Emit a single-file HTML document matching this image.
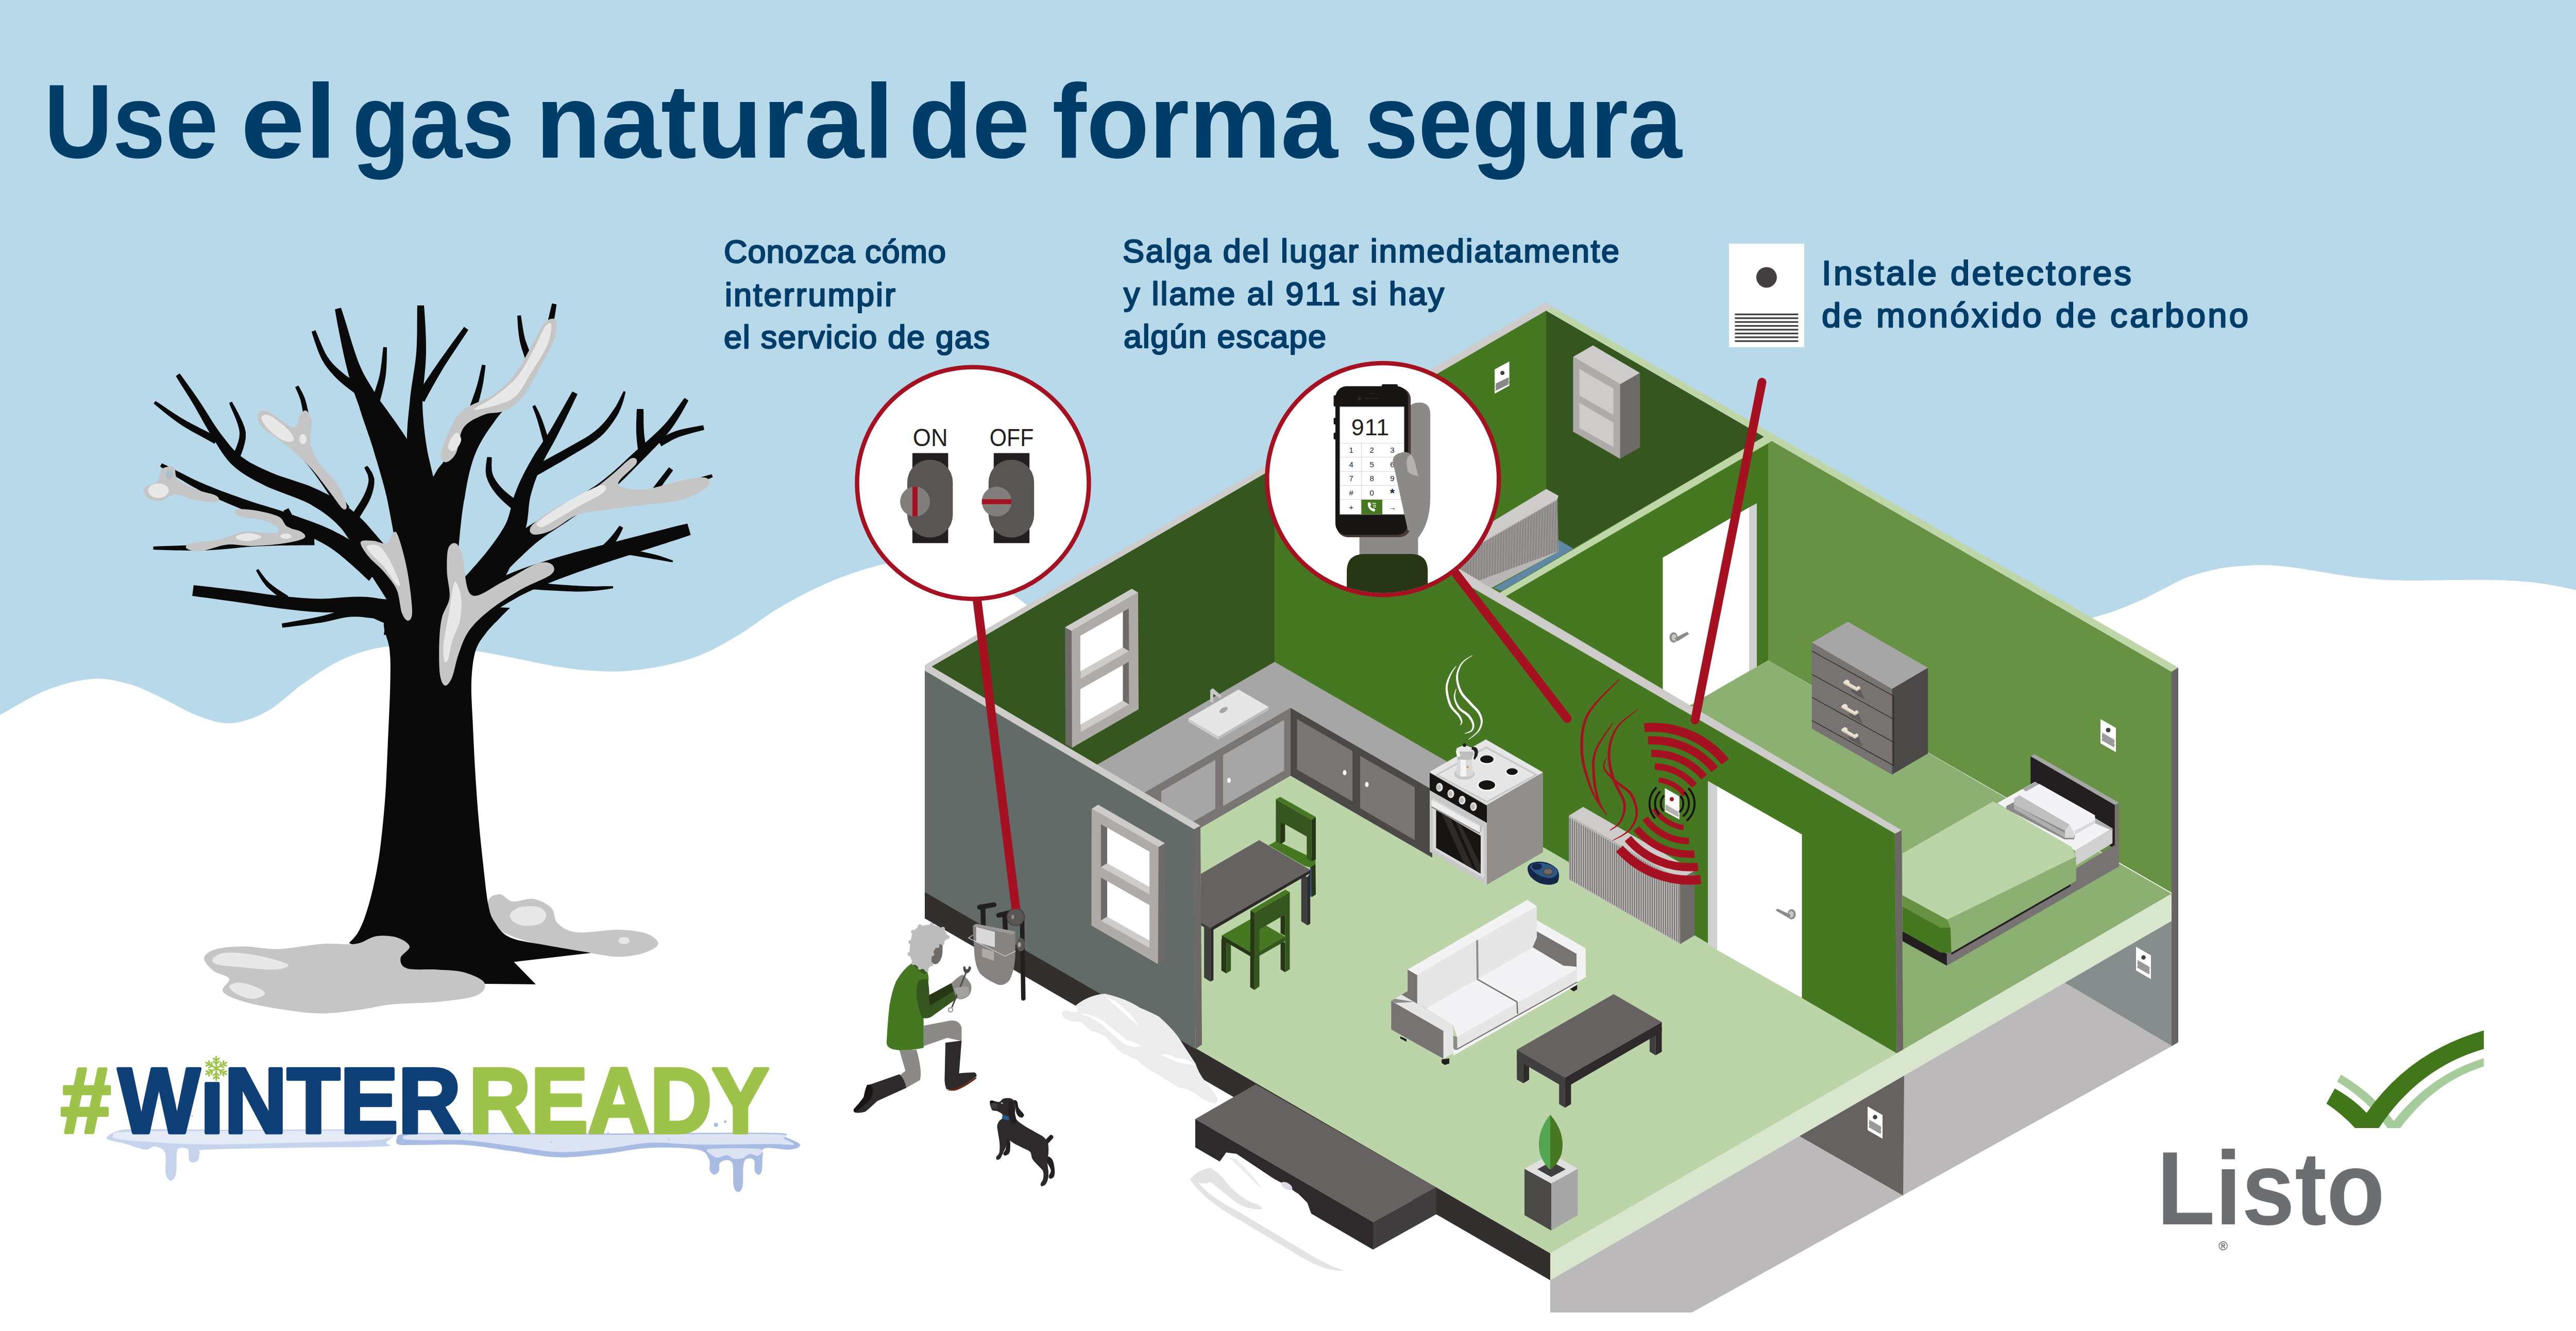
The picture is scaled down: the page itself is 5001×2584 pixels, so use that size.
<!DOCTYPE html>
<html lang="es"><head><meta charset="utf-8"><title>Use el gas natural de forma segura</title>
<style>html,body{margin:0;padding:0;background:#fff}body{width:5001px;height:2584px;overflow:hidden}svg{display:block}</style></head>
<body>
<svg width="5001" height="2584" viewBox="0 0 5001 2584" font-family="'Liberation Sans', sans-serif">
<g id="bg">
<rect x="0" y="0" width="5001" height="2584" fill="#FFFFFF"/>
<path d="M-60,-10 L-60,1420 C-50,1414.7 -25,1401.3 0,1388C25,1374.7 60.2,1351.7 90,1340C119.8,1328.3 152.3,1320 179,1318C205.7,1316 228.2,1322.2 250,1328C271.8,1333.8 287.5,1342.7 310,1353C332.5,1363.3 361.7,1381.5 385,1390C408.3,1398.5 427.5,1405.7 450,1404C472.5,1402.3 496.7,1393 520,1380C543.3,1367 565.8,1342.7 590,1326C614.2,1309.3 639.2,1291.7 665,1280C690.8,1268.3 717.5,1260.2 745,1256C772.5,1251.8 800.2,1253.7 830,1255C859.8,1256.3 894,1259.8 924,1264C954,1268.2 982.8,1274.8 1010,1280C1037.2,1285.2 1063.7,1291.3 1087,1295C1110.3,1298.7 1129.3,1300.7 1150,1302C1170.7,1303.3 1188.5,1304.5 1211,1303C1233.5,1301.5 1260.3,1298.2 1285,1293C1309.7,1287.8 1334,1282.2 1359,1272C1384,1261.8 1409.2,1247.5 1435,1232C1460.8,1216.5 1484.8,1196 1514,1179C1543.2,1162 1577.7,1143.7 1610,1130C1642.3,1116.3 1678,1104.3 1708,1097C1738,1089.7 1764.7,1086.2 1790,1086C1815.3,1085.8 1836.7,1088.7 1860,1096C1883.3,1103.3 1908.3,1117.3 1930,1130C1951.7,1142.7 1968.3,1155.3 1990,1172C2011.7,1188.7 2033.3,1208.7 2060,1230C2086.7,1251.3 2135,1288.3 2150,1300 L3990,1215 C4002,1212.3 4042,1204.2 4062,1199C4082,1193.8 4094.3,1189.7 4110,1184C4125.7,1178.3 4141,1171.8 4156,1165C4171,1158.2 4185.7,1150.2 4200,1143C4214.3,1135.8 4227.8,1127.7 4242,1122C4256.2,1116.3 4270.8,1112.5 4285,1109C4299.2,1105.5 4309.3,1103 4327,1101C4344.7,1099 4371.3,1097 4391,1097C4410.7,1097 4427.2,1099 4445,1101C4462.8,1103 4482.2,1106.5 4498,1109C4513.8,1111.5 4525.7,1113.8 4540,1116C4554.3,1118.2 4568.2,1120.3 4584,1122C4599.8,1123.7 4617.3,1125.2 4635,1126C4652.7,1126.8 4668.3,1127 4690,1127C4711.7,1127 4740,1126.2 4765,1126C4790,1125.8 4817.5,1125.5 4840,1126C4862.5,1126.5 4882.2,1127.5 4900,1129C4917.8,1130.5 4930.2,1132.2 4947,1135C4963.8,1137.8 4982.2,1141.5 5001,1146C5019.8,1150.5 5050.2,1159.3 5060,1162 L5060,-10 Z" fill="#B8D9EA"/>
</g>
<g id="tree">
<path d="M947.5,1750C949.2,1740.2 962.1,1736 970,1736C977.9,1736 984.2,1748.5 995,1750C1005.8,1751.5 1022.5,1742.9 1035,1745C1047.5,1747.1 1062.1,1754.6 1070,1762.5C1077.9,1770.4 1074.2,1784.6 1082.5,1792.5C1090.8,1800.4 1100.4,1807.9 1120,1810C1139.6,1812.1 1177.5,1804.6 1200,1805C1222.5,1805.4 1242.1,1807.9 1255,1812.5C1267.9,1817.1 1278.3,1826.2 1277.5,1832.5C1276.7,1838.8 1262.9,1845.8 1250,1850C1237.1,1854.2 1217.5,1857.5 1200,1857.5C1182.5,1857.5 1165.8,1852.9 1145,1850C1124.2,1847.1 1099.2,1845 1075,1840C1050.8,1835 1019.2,1827.5 1000,1820C980.8,1812.5 968.8,1806.7 960,1795C951.2,1783.3 945.8,1759.8 947.5,1750Z" fill="#C6C5C6"/>
<path d="M990,1775C992.1,1770.2 1000.8,1763.3 1010,1761C1019.2,1758.7 1036.7,1758.7 1045,1761C1053.3,1763.3 1059.2,1769.8 1060,1775C1060.8,1780.2 1056.7,1788.8 1050,1792.5C1043.3,1796.2 1028.8,1797.9 1020,1797.5C1011.2,1797.1 1002.5,1793.8 997.5,1790C992.5,1786.2 987.9,1779.8 990,1775Z" fill="#E8E8E8"/>
<ellipse cx="1211" cy="1826" rx="11" ry="7" fill="#E8E8E8"/>
<path d="M750,1170C749.2,1177.5 744,1200 745,1215C746,1230 753.9,1241.7 756,1260C758.1,1278.3 758.1,1293.3 757.5,1325C756.9,1356.7 754.2,1412.5 752.5,1450C750.8,1487.5 750,1516.7 747.5,1550C745,1583.3 741.2,1621.7 737.5,1650C733.8,1678.3 729.6,1699.2 725,1720C720.4,1740.8 715,1760 710,1775C705,1790 700.4,1800.7 695,1810C689.6,1819.3 680.4,1827.5 677.5,1831 L700,1840 L800,1885 L940,1910 L1040,1911 L997.5,1867.5 L1147.5,1850 C1132.9,1847.5 1086.2,1840 1060,1835C1033.8,1830 1006.7,1827.5 990,1820C973.3,1812.5 967.1,1800.8 960,1790C952.9,1779.2 951.2,1774.2 947.5,1755C943.8,1735.8 940.6,1702.5 937.5,1675C934.4,1647.5 931.5,1619.2 929,1590C926.5,1560.8 924.4,1531.7 922.5,1500C920.6,1468.3 918.8,1429.2 917.5,1400C916.2,1370.8 914.2,1347.5 915,1325C915.8,1302.5 917.9,1280.8 922.5,1265C927.1,1249.2 934.6,1240.8 942.5,1230C950.4,1219.2 962.1,1208.3 970,1200C977.9,1191.7 986.7,1183.3 990,1180Z" fill="#0A0A0A"/>
<polygon points="745,1232.5 755,1160 770,1100 765,1040 750,960 742.5,910 781,867.5 802.5,925 829,946 850,910 875,880 895,910 890,985 885,1060 900,1110 917.5,1157.5 922.5,1232.5" fill="#0A0A0A"/>
<polygon points="880.5,1045.1 878.5,1040.9 876.1,1035.4 873.5,1028.7 870.6,1021 867.4,1012.4 864.1,1003.3 860.6,993.7 856.9,983.9 853,974 849.1,964.2 845,954.8 841.3,947.1 837.6,939.5 833.7,931.8 829.7,924.1 825.7,916.3 821.6,908.5 817.4,900.7 813.2,893 809,885.3 804.7,877.7 800.5,870.2 796.2,862.9 791.9,855.6 787,847.8 781.9,840 776.7,832.4 771.6,824.9 766.4,817.6 761.3,810.4 756.2,803.4 751.3,796.6 746.5,790 741.8,783.6 737.3,777.5 733.1,771.4 728.3,763.3 723.8,755.9 719.7,749.2 715.7,742.8 711.9,736.5 708.2,729.9 704.5,722.9 700.8,715 696.9,706.1 694.3,699.6 691.7,692.1 688.9,684 686.1,675.3 683.2,666.3 680.4,657.1 677.6,647.9 674.9,638.8 672.3,630.1 669.8,622 667.5,614.4 665.3,607.7 663.4,602 661.8,597.5 650.2,600.5 650.9,605.2 651.9,611 653.1,617.9 654.5,625.7 656.1,634.1 657.8,643.1 659.7,652.4 661.6,661.9 663.5,671.4 665.5,680.8 667.5,689.9 669.4,698.5 671.3,706.6 673.1,713.9 675.6,723.9 678.1,733 680.5,741.3 682.9,749.2 685.5,756.8 688.1,764.2 690.8,771.8 693.7,779.8 696.9,788.6 699.1,796.1 701.6,803.8 704.2,811.7 706.9,819.7 709.7,827.7 712.5,835.8 715.3,844 718.1,852.1 720.8,860.3 723.4,868.3 725.8,876.4 728.1,884.4 730.4,891.9 732.7,899.6 735,907.5 737.4,915.4 739.6,923.4 741.9,931.4 744.1,939.4 746.2,947.3 748.2,955.2 750.1,963 751.9,970.6 753.5,978.1 755,985.2 756.8,993.6 758.6,1002.4 760.3,1011.5 761.9,1020.8 763.5,1030.1 764.9,1039.1 766.2,1047.7 767.3,1055.7 768.2,1063.1 769,1069.6 769.5,1074.9" fill="#0A0A0A"/>
<polygon points="705.8,751.9 701.1,748.9 694.6,744.8 687.1,739.9 679.3,734.6 671.8,729.2 665.4,724.1 658.5,718.2 652.1,712.3 646.1,706.2 640.5,699.5 635.2,691.9 631.4,685.5 627.6,677.6 623.9,669.1 620.3,660.6 617.1,652.6 614.4,645.9 612.2,641.1 604.8,643.9 606.3,648.9 608.5,655.7 611.2,663.9 614.3,672.8 617.6,681.9 621.2,690.5 624.8,698.1 630.1,706.9 635.7,714.8 641.6,722.1 647.9,729 654.6,735.9 661.3,742.1 668.9,748.4 676.6,754.5 683.9,760 690,764.7 694.2,768.1" fill="#0A0A0A"/>
<polygon points="735.7,787.4 736.7,782.4 738.4,775.6 740.5,767.4 742.8,758.5 745,749.1 746.9,739.8 748.4,731.1 749.4,722.3 750.1,713 750.5,703.5 750.8,694.4 750.9,686.2 751,679.3 751,674.3 744,673.7 743.3,678.8 742.5,685.7 741.7,693.8 740.7,702.7 739.5,711.9 738.2,720.8 736.6,728.9 734.6,737 732,745.7 729.2,754.6 726.3,763.2 723.5,771.1 721.1,777.7 719.3,782.6" fill="#0A0A0A"/>
<polygon points="862.1,1004.9 860.6,1000.3 858.9,994.7 857,988.2 855,980.9 852.8,973 850.6,964.6 848.4,955.8 846.1,946.7 843.8,937.4 841.5,928.1 839.3,918.8 837.1,909.7 835.1,901 833.2,892.7 831.4,885 829.9,878 828.3,868.4 826.9,859.3 825.6,850.6 824.5,842.3 823.6,834.3 822.7,826.3 822,818.4 821.4,810.5 820.8,802.4 820.4,794.1 820,785.5 820.2,777.6 820.5,769.6 821.1,761.4 821.7,753.1 822.5,744.7 823.3,736.2 824.1,727.7 824.9,719.2 825.7,710.7 826.3,702.2 826.7,693.8 827,685.4 827,676.2 826.9,666.6 826.7,656.8 826.3,647 825.9,637.3 825.4,627.9 824.8,619.1 824.3,611 823.8,603.8 823.4,597.7 823,592.9 810,593.1 809.8,598 809.7,604.2 809.7,611.5 809.7,619.6 809.6,628.4 809.6,637.6 809.5,647.2 809.3,656.9 809,666.5 808.6,675.8 808,684.6 807.3,692.4 806.4,700.3 805.3,708.4 804.1,716.7 802.8,725 801.5,733.4 800.2,741.9 798.9,750.4 797.7,758.9 796.6,767.5 795.7,776 795,784.5 794,793.3 793.1,801.8 792.3,810.1 791.5,818.4 790.9,826.8 790.4,835.2 790,843.8 789.8,852.8 789.7,862 789.8,871.7 790.1,882 790.2,889.8 790.4,898.2 790.8,907.1 791.4,916.4 792,926 792.7,935.7 793.5,945.5 794.3,955.2 795,964.7 795.8,973.8 796.4,982.6 797,990.7 797.5,998.2 797.8,1004.8 798,1010.5 797.9,1015.1" fill="#0A0A0A"/>
<polygon points="823.5,780.2 825.9,775.7 829,769.9 832.7,763.1 836.9,755.5 841.5,747.3 846.3,738.8 851.2,730.3 856.1,721.9 860.9,713.8 865,707.2 869.7,700 874.6,692.5 879.7,684.7 884.9,676.9 889.9,669.4 894.8,662.1 899.2,655.4 903.2,649.4 906.5,644.4 909.1,640.4 900.9,634.6 898,638.4 894.4,643.3 890.2,649.1 885.4,655.6 880.2,662.6 874.9,670 869.4,677.6 863.9,685.2 858.7,692.6 853.7,699.6 849.1,706.2 843.7,714 838.2,722.1 832.6,730.4 827.2,738.6 822.1,746.5 817.3,753.8 813,760.3 809.4,765.7 806.5,769.8" fill="#0A0A0A"/>
<polygon points="889.8,1063.4 890.4,1058.4 891,1052 891.8,1044.7 892.5,1036.7 893.4,1028 894.4,1018.8 895.4,1009.5 896.5,1000 897.7,990.8 899,981.9 900.4,973.6 901.9,966 903.2,957.7 904.6,949.3 906.1,941 907.7,932.8 909.4,924.8 911.2,916.9 913.2,909.2 915.3,901.8 917.5,894.6 919.9,887.6 922.5,881 925.5,873.8 928.9,866.6 932.7,859.4 936.8,852.3 941.1,845.3 945.6,838.3 950.3,831.6 955,824.9 959.6,818.5 963.9,812.5 969.1,805.8 974.4,799.7 980,793.8 985.8,788.1 991.7,782.3 997.7,776.4 1003.5,770.2 1009,763.7 1014.9,756.7 1020.3,749.8 1025.3,743 1030.1,736.1 1034.6,729.2 1038.9,722.2 1043,715.1 1047.6,706.9 1052,698.7 1056,690.3 1059.8,681.6 1063.4,672.3 1066.6,662.3 1069,653.5 1071.2,643.8 1073.3,633.5 1075.2,623.1 1076.9,613.1 1078.4,604 1079.5,596.5 1080.4,590.9 1071.6,589.1 1070.1,594.6 1068.3,602.1 1066.2,610.9 1063.9,620.7 1061.4,630.8 1058.8,640.7 1056.1,649.9 1053.4,657.7 1049.6,666.8 1045.6,675.1 1041.4,682.8 1036.9,690.2 1032.1,697.5 1027,704.9 1022.4,711.2 1017.7,717.2 1012.9,723.2 1007.8,729 1002.5,734.8 996.9,740.6 991,746.3 985.4,750.7 979.4,755 973,759.3 966.1,763.8 958.8,768.8 951.3,774.3 943.6,780.5 936.1,787.5 930.2,793.3 924.3,799.2 918.3,805.5 912.2,812.1 906.1,819.1 900,826.4 894,834.1 888.2,842 882.7,850.4 877.5,859 873.3,867.2 869.3,875.5 865.7,883.9 862.2,892.4 859,901.1 856,909.8 853.2,918.6 850.5,927.4 847.9,936.2 845.5,945 843.1,954 841.4,963 839.8,972.6 838.3,982.5 837,992.6 835.8,1002.6 834.7,1012.4 833.7,1021.9 832.8,1030.8 832,1038.9 831.3,1046 830.7,1051.9 830.2,1056.6" fill="#0A0A0A"/>
<polygon points="924.7,797.2 926.2,791 928.6,782.1 931.4,771.7 934.1,761.1 936.3,751.3 938.1,741.9 939.6,732 940.9,722.7 941.8,714.8 942.4,709.1 935.6,707.9 934.2,713.4 932.4,721.2 930.4,730.3 928.1,739.8 925.7,748.7 922.8,757.9 919.3,768.1 915.8,778.1 912.7,786.7 910.3,792.8" fill="#0A0A0A"/>
<polygon points="1037,702.3 1034.3,696.3 1030.5,687.9 1026.4,678.2 1022.5,668.1 1019.3,658.7 1017,649 1015.1,638.3 1013.5,627.7 1012.1,618.6 1011,612.1 1004,612.9 1004.4,619.4 1004.9,628.7 1005.7,639.5 1007,650.8 1008.7,661.3 1011.2,671.7 1014.6,682.5 1018,692.8 1021.1,701.5 1023,707.7" fill="#0A0A0A"/>
<polygon points="945.3,1182 947.5,1177.4 950.6,1171.5 954.5,1164.5 959.1,1156.7 964,1148.3 969.2,1139.4 974.4,1130.5 979.4,1121.6 984.1,1112.9 988.2,1104.8 992.3,1096.6 996.3,1088.6 1000.1,1080.7 1003.7,1072.7 1007.2,1064.7 1010.4,1056.6 1013.5,1048.5 1016.2,1040.4 1018.8,1032 1021.3,1022.4 1023.2,1012.9 1024.4,1003.9 1025.4,995.2 1026.1,987 1026.9,979.1 1027.9,971.7 1029.3,964.4 1031.3,957 1033.5,949.5 1035.8,942.1 1038.3,934.8 1041,927.4 1043.9,920 1046.9,912.6 1050,905.1 1053.4,897.8 1057.1,890.7 1060.9,883.5 1064.9,876.2 1069.1,868.8 1073.5,861 1077.9,852.8 1082.4,844.1 1086.2,836.5 1090.4,828.1 1094.9,819.2 1099.4,809.9 1103.9,800.8 1108.2,791.9 1112.2,783.6 1115.7,776.1 1118.7,769.9 1120.9,765.1 1111.1,759.9 1108.4,764.5 1104.9,770.5 1100.9,777.6 1096.3,785.7 1091.5,794.2 1086.5,803.1 1081.4,812 1076.5,820.7 1071.8,828.7 1067.6,835.9 1062.6,843.9 1057.7,851.5 1052.9,858.8 1048.1,865.9 1043.4,873 1038.8,880.1 1034.3,887.4 1030,894.9 1025.8,902.4 1021.8,909.8 1017.9,917.2 1014.2,924.6 1010.6,932.1 1007.1,939.7 1003.8,947.5 1000.7,955.6 997.6,964.1 995.1,972.7 992.9,981.1 990.9,989.2 988.9,996.9 986.7,1004.3 984.2,1011.3 981.2,1018 977.9,1024 974.2,1030.1 970.3,1036.3 966.1,1042.6 961.6,1048.9 957,1055.3 952.1,1061.8 947,1068.5 941.8,1075.2 936.6,1081.3 930.9,1088 924.6,1095.2 918.1,1102.6 911.6,1109.9 905.2,1116.9 899.1,1123.4 893.5,1129.3 888.6,1134.2 884.7,1138" fill="#0A0A0A"/>
<polygon points="1042.1,923.3 1046.9,920.5 1053.2,916.9 1060.9,912.5 1069.4,907.7 1078.3,902.6 1087.4,897.4 1096.2,892.2 1104.3,887.3 1112,882.7 1119.9,878.1 1127.8,873.4 1135.8,868.6 1143.6,863.7 1151.1,858.7 1158.3,853.6 1164.9,848.2 1172.6,840.9 1179.4,833.3 1185.5,825.6 1190.8,817.9 1195.7,810.5 1200.2,803.1 1204.5,793.5 1208.2,783.6 1211,774.3 1213,766.4 1214.4,760.7 1210.6,759.3 1207.8,764.4 1204.2,771.7 1200,780.2 1195.3,788.9 1189.8,796.9 1185.3,803.5 1180.3,810.4 1174.9,817.2 1168.9,824 1162.4,830.5 1155.1,836.8 1149.2,841.3 1142.5,845.9 1135.3,850.4 1127.6,854.8 1119.7,859.3 1111.7,863.8 1103.6,868.2 1095.7,872.7 1087.6,877.3 1078.8,882.1 1069.7,887.1 1060.6,892 1052.1,896.6 1044.3,900.7 1037.8,904.1 1032.9,906.7" fill="#0A0A0A"/>
<polygon points="1068.3,863.3 1066.3,857.7 1063.8,849.7 1060.8,840.2 1057.6,830.4 1054.5,821.2 1051.7,813.5 1046.7,801.6 1042,792.4 1038.7,786.3 1033.3,788.7 1035.7,795.2 1039.3,804.7 1043.3,816.5 1045.4,824 1048,833.3 1050.7,843.2 1053.2,852.7 1055.3,860.9 1056.7,866.7" fill="#0A0A0A"/>
<polygon points="1011.3,977.2 1006,973.5 998.6,968.1 990.3,961.9 982.3,955.5 975.9,949.6 969.5,942.5 963.9,935.2 959.5,927.9 956.3,920.9 954.6,912.7 954.2,903.2 954.5,894.3 954.5,887.8 945.5,887.2 944.5,893.4 943.3,902.7 942.6,913.5 943.7,924.1 947,933.8 951.7,942.9 957.4,951.7 964.1,960.4 970.9,967.8 978.9,975.4 987,982.5 994,988.5 998.7,992.8" fill="#0A0A0A"/>
<polygon points="974.8,1117 978.3,1113.3 982.8,1108.7 988.1,1103.3 994.1,1097.4 1000.5,1091.1 1007.3,1084.5 1014.2,1077.9 1021.2,1071.3 1028,1065 1034.5,1059.2 1040.5,1054 1047,1049 1053.4,1044.2 1059.9,1039.6 1066.5,1035.1 1073.2,1030.7 1080,1026.3 1086.8,1021.8 1093.8,1017.3 1101,1012.5 1108.1,1007.6 1114.7,1003.1 1121.3,998.7 1128.1,994.2 1135,989.7 1141.9,985.1 1148.9,980.4 1155.9,975.6 1162.8,970.7 1169.7,965.7 1176.4,960.5 1183,955.2 1189.5,949.8 1195.8,944.2 1202,938.5 1208.1,932.7 1214.1,926.9 1219.9,921.1 1225.7,915.3 1231.3,909.5 1236.9,903.9 1242.3,898.3 1247.6,892.9 1254,886.4 1260.3,879.9 1266.6,873.5 1272.8,867.2 1278.9,860.8 1284.8,854.5 1290.5,848.1 1295.9,841.6 1301.2,835.1 1306.8,827.3 1312.3,819.1 1317.5,810.7 1322.4,802.5 1326.9,794.7 1330.7,787.7 1333.9,781.9 1336.3,777.5 1328.7,772.5 1325.6,776.6 1321.6,782 1317,788.5 1311.9,795.7 1306.4,803.2 1300.7,810.8 1294.8,818.2 1288.8,824.9 1283.5,830.5 1277.8,836.2 1271.9,841.8 1265.8,847.5 1259.4,853.3 1252.8,859 1246.1,864.9 1239.3,870.9 1232.4,877.1 1226.7,882.3 1221,887.6 1215.2,893 1209.4,898.5 1203.5,903.9 1197.5,909.3 1191.5,914.7 1185.4,919.9 1179.3,925.1 1173.2,930 1167,934.8 1160.7,939.4 1154.1,943.9 1147.5,948.3 1140.7,952.7 1133.7,957 1126.7,961.3 1119.7,965.5 1112.7,969.8 1105.6,974 1098.7,978.2 1091.9,982.4 1084.6,986.8 1077.5,990.9 1070.4,994.9 1063.3,999 1056.2,1003 1049,1007.2 1041.7,1011.5 1034.4,1016 1027,1020.8 1019.5,1026 1012.2,1031 1004.6,1036.6 996.8,1042.5 989,1048.6 981.2,1054.8 973.7,1060.8 966.5,1066.5 960,1071.8 954.1,1076.4 949.2,1080.2 945.2,1083" fill="#0A0A0A"/>
<polygon points="1255.9,878.8 1255,873.5 1253.6,866 1252.2,857.3 1250.9,848.2 1250,839.6 1249.5,830.3 1249.2,819.9 1249.2,809.5 1249.1,800.5 1249,794.1 1236,793.9 1235.7,800.2 1235.4,809.3 1235,819.8 1234.9,830.6 1235,840.4 1235.6,849.8 1236.5,859.4 1237.6,868.3 1238.5,875.9 1239.1,881.2" fill="#0A0A0A"/>
<polygon points="1283.6,866.6 1289.4,863.1 1297.6,858.2 1307.1,853.1 1317.2,848.6 1324.8,845.9 1334.1,843.2 1343.9,840.5 1353.3,838.1 1361.3,836 1367,834.4 1365,825.6 1359.2,826.6 1351.1,828 1341.5,829.8 1331.3,831.8 1321.5,834 1312.8,836.4 1301.5,840.8 1291,845.9 1282.4,850.4 1276.4,853.4" fill="#0A0A0A"/>
<polygon points="1175.9,977.4 1180.9,976.8 1187.5,975.9 1195.3,975 1204.1,973.9 1213.5,972.7 1223.2,971.4 1232.9,970 1242.4,968.5 1251.2,966.9 1259.8,965.2 1268.4,963.3 1277.1,961.3 1285.8,959.2 1294.4,957.1 1302.8,954.9 1311.1,952.7 1319,950.5 1326.6,948.3 1336.3,945 1346,941.5 1355.4,937.9 1364.2,934.4 1372.1,931.2 1378.6,928.5 1383.5,926.3 1381.5,920.7 1376.3,922 1369.5,923.9 1361.4,926.3 1352.4,929 1342.8,931.7 1333,934.4 1323.4,936.7 1315.9,938.6 1308,940.6 1299.8,942.6 1291.4,944.5 1282.8,946.4 1274.2,948.3 1265.6,950 1257.1,951.6 1248.8,953.1 1240.1,954.5 1230.9,955.9 1221.3,957.2 1211.7,958.3 1202.3,959.4 1193.6,960.4 1185.8,961.3 1179.1,962 1174.1,962.6" fill="#0A0A0A"/>
<polygon points="1269.8,963.6 1273.4,958.6 1278.6,951.3 1284.9,942.8 1291.4,933.8 1297.7,925.3 1302.9,918 1306.5,913 1298.5,907 1294.7,911.9 1289.2,918.9 1282.7,927.3 1276,936.1 1269.5,944.5 1264,951.5 1260.2,956.4" fill="#0A0A0A"/>
<polygon points="914.7,1216.2 918.6,1213.4 923.6,1210.1 929.2,1206.3 935.4,1202.2 942.2,1197.7 949.5,1193 957,1188.2 964.8,1183.3 972.8,1178.3 980.7,1173.5 988.5,1168.8 996.1,1164.4 1003.3,1160.3 1010,1156.5 1017.2,1153 1024.2,1149.6 1031.3,1146.3 1038.3,1143.2 1045.3,1140.1 1052.4,1137.2 1059.5,1134.3 1066.8,1131.4 1074.3,1128.5 1081.9,1125.6 1089.8,1122.6 1097.9,1119.6 1106.3,1116.5 1113.2,1113.9 1120.4,1111.3 1127.8,1108.7 1135.3,1106.1 1143,1103.4 1150.8,1100.8 1158.8,1098.1 1166.7,1095.5 1174.7,1092.8 1182.7,1090.2 1190.7,1087.6 1198.7,1085 1206.5,1082.4 1214.3,1079.9 1221.9,1077.4 1229.4,1074.9 1238,1072 1246.9,1069.1 1256,1066.2 1265.3,1063.2 1274.6,1060.2 1283.8,1057.3 1292.8,1054.4 1301.5,1051.6 1309.7,1048.9 1317.4,1046.4 1324.5,1044.1 1330.8,1042 1336.2,1040.1 1340.7,1038.6 1334.3,1016.4 1329.7,1017.5 1324.1,1018.8 1317.7,1020.3 1310.4,1022.1 1302.6,1024.1 1294.2,1026.2 1285.3,1028.4 1276.2,1030.8 1266.8,1033.2 1257.3,1035.6 1247.9,1038.1 1238.5,1040.5 1229.4,1042.8 1220.6,1045.1 1213.1,1047.1 1205.3,1049 1197.4,1051 1189.4,1053.1 1181.3,1055.1 1173.1,1057.2 1164.9,1059.3 1156.7,1061.4 1148.5,1063.5 1140.3,1065.7 1132.2,1067.8 1124.2,1070 1116.4,1072.1 1108.6,1074.3 1101,1076.4 1093.7,1078.5 1085.1,1081.1 1076.7,1083.6 1068.5,1086 1060.5,1088.5 1052.6,1090.9 1044.8,1093.4 1037.1,1095.9 1029.4,1098.5 1021.6,1101.2 1013.9,1104 1006,1107 998.1,1110.1 990,1113.5 982,1116.8 973.6,1120.5 965.1,1124.4 956.3,1128.6 947.6,1132.9 938.9,1137.2 930.5,1141.5 922.3,1145.7 914.4,1149.7 907.1,1153.4 900.5,1156.7 894.5,1159.6 889.5,1162 885.3,1163.8" fill="#0A0A0A"/>
<polygon points="1166.2,1085.8 1170.2,1081.1 1176.1,1074.3 1182.9,1066.5 1189.6,1058.6 1195.2,1051.5 1201.7,1040.8 1206.5,1031.2 1209.5,1024.5 1202.5,1020.5 1198.2,1026.2 1192.2,1034.6 1184.8,1043.5 1179.3,1049.5 1172.2,1056.5 1164.9,1063.7 1158.4,1069.9 1153.8,1074.2" fill="#0A0A0A"/>
<polygon points="1198.8,1073.9 1204.5,1074.7 1212.3,1075.9 1221.6,1077.4 1231.7,1079.1 1242.2,1080.8 1252.3,1082.5 1261.5,1084.1 1269,1085.4 1281.4,1087.4 1291.6,1089.2 1299.7,1090.7 1305.6,1091.4 1306.4,1088.6 1300.9,1086.3 1293.1,1083.4 1283.1,1080.1 1271,1076.6 1263.3,1074.8 1254.2,1072.7 1244.2,1070.5 1233.8,1068.3 1223.7,1066.1 1214.5,1064.1 1206.8,1062.4 1201.2,1061.1" fill="#0A0A0A"/>
<polygon points="999.5,1142.5 1004.3,1142.7 1010.4,1143 1017.4,1143.3 1025.4,1143.8 1034.1,1144.3 1043.4,1144.8 1053.1,1145.4 1062.9,1146 1072.9,1146.5 1082.8,1147 1092.3,1147.5 1101.5,1147.9 1110.1,1148.2 1117.9,1148.4 1124.9,1148.5 1136.5,1148.2 1147.1,1147.6 1156.8,1146.7 1165.6,1145.7 1173.3,1144.7 1180,1143.7 1185.6,1142.7 1190.1,1142 1189.9,1138 1185.2,1137.9 1179.5,1137.9 1172.7,1138.1 1165,1138.3 1156.4,1138.4 1146.9,1138.3 1136.4,1138.1 1125.1,1137.5 1118.4,1137.1 1110.7,1136.7 1102.2,1136.1 1093.1,1135.4 1083.5,1134.7 1073.7,1133.9 1063.8,1133.1 1054,1132.3 1044.4,1131.5 1035.1,1130.7 1026.4,1129.9 1018.5,1129.2 1011.4,1128.5 1005.3,1128 1000.5,1127.5" fill="#0A0A0A"/>
<polygon points="822.2,1122.2 817.9,1119.4 812.7,1115.5 806.8,1110.8 800.4,1105.4 793.5,1099.6 786.3,1093.3 779,1086.9 771.7,1080.5 764.5,1074.2 757.6,1068.1 751.3,1062.6 746,1057.1 740.8,1051.3 735.5,1045.3 730.2,1039 724.8,1032.7 719.2,1026.2 713.6,1019.8 707.8,1013.5 701.7,1007.3 695.4,1001.3 688.9,995.6 681.4,989.3 673.9,983.4 666.4,978 658.7,972.9 650.9,968.1 642.9,963.6 634.7,959.2 626.2,955 617.3,950.7 609.9,947.4 602.2,944.1 594.2,941.1 586.1,938.2 577.8,935.4 569.6,932.7 561.5,930.1 553.6,927.5 546,924.9 538.8,922.4 532,919.8 525.8,917.3 516.9,913.3 508.4,909.5 500.6,905.8 493.3,902.1 486.4,898.4 479.9,894.5 473.8,890.3 467.8,885.9 462.1,881.3 456.8,876.4 451.8,871.2 446.9,865.7 442.1,859.8 437.3,853.6 432.2,847 427,840.2 422.4,833.8 417.8,827 413.2,819.9 408.5,812.5 403.8,805.1 399.1,797.6 394.5,790.3 389.9,783.2 385.5,776.5 379.6,768 373.6,759.3 367.5,750.7 361.7,742.7 356.5,735.5 352.1,729.5 348.7,725 341.3,730 344.2,734.8 348.1,741.2 352.8,748.7 358.1,757 363.7,765.8 369.2,774.8 374.5,783.5 378.5,790.3 382.6,797.5 386.8,805 391.1,812.6 395.4,820.4 399.8,828.1 404.2,835.6 408.6,842.9 413,849.8 417.5,857.1 421.8,864.2 426.1,871.2 430.6,878 435.3,884.8 440.4,891.4 446,897.9 452.2,904.1 458.9,909.8 465.8,915.1 473,920.1 480.5,924.8 488.3,929.3 496.4,933.7 505,938.1 514.2,942.7 521,945.9 528.3,949.1 536,952.1 543.8,955.1 551.8,958.1 559.7,961 567.7,964 575.4,967 582.9,970 590,973 596.6,976.1 602.7,979.3 610.5,983.9 617.9,988.5 624.8,993.1 631.4,997.8 637.6,1002.6 643.6,1007.6 649.5,1012.8 655.3,1018.4 661.1,1024.4 665.3,1029.6 669.4,1035.2 673.4,1041.1 677.5,1047.4 681.6,1054 685.7,1060.9 689.9,1068 694.3,1075.2 698.9,1082.6 703.7,1090 708.7,1097.4 713.3,1105.1 718.3,1113.2 723.6,1121.5 729,1129.9 734.3,1138.2 739.5,1146.3 744.4,1154 748.8,1161.2 752.6,1167.6 755.7,1173.2 757.8,1177.8" fill="#0A0A0A"/>
<polygon points="423.5,848.4 419,846.2 413,843.3 406,839.9 398.2,836 389.9,831.9 381.4,827.5 373.1,823.2 365.2,818.9 358.2,814.9 350.4,810.4 342.2,805.3 334.1,800 326.1,794.7 318.6,789.6 311.9,785.1 306.2,781.3 301.8,778.6 298.2,783.4 302.2,786.8 307.4,791.1 313.7,796.3 320.8,801.9 328.4,807.9 336.3,813.9 344.2,819.7 351.8,825.1 359,829.6 366.9,834.3 375.2,839 383.7,843.6 391.9,848.1 399.6,852.3 406.4,856 412.2,859.2 416.5,861.6" fill="#0A0A0A"/>
<polygon points="464.6,892.5 466.2,887.3 468.9,879.9 472.1,870.9 475,860.8 476.9,850.2 477,839.5 474.8,830.1 471.1,820.3 466.6,810.4 461.7,800.8 457,792.1 453,784.9 450.2,779.8 444.8,782.2 446.8,787.9 450.1,795.5 454,804.5 458,814.1 461.5,823.9 464,832.9 465,840.5 464.5,848.7 462.5,857.5 459.3,866.5 455.9,874.8 452.6,882.1 450.4,887.5" fill="#0A0A0A"/>
<polygon points="678.2,984.3 675.5,980.5 672,975.8 668,970.1 663.5,963.6 658.6,956.6 653.4,949.2 648,941.5 642.5,933.8 637,926.2 631.6,918.8 626.3,911.8 621.3,905.4 616.6,899.6 609.5,891.5 602.5,884.1 595.7,877.4 589.1,871.3 582.7,865.6 576.5,860.2 570.6,855 564.8,849.9 556.8,842.9 548.6,836.2 540.8,829.8 533.7,824.2 527.7,819.6 523.3,816.2 516.7,823.8 520.8,827.7 526.3,832.8 533,838.9 540.3,845.7 547.8,852.8 555.2,860.1 560.8,865.6 566.6,871.1 572.4,876.7 578.4,882.5 584.5,888.6 590.6,895.3 597,902.5 603.4,910.4 607.6,915.9 612.3,922.2 617.2,929.2 622.4,936.5 627.6,944.2 632.9,952 638.1,959.7 643,967.2 647.7,974.3 652.1,980.9 655.9,986.8 659.2,991.8 661.8,995.7" fill="#0A0A0A"/>
<polygon points="600.4,809 598.9,802.5 596.9,793.1 594.5,782.8 591.8,773.6 587.3,763.3 582.6,754.4 579.1,748.4 572.9,751.6 575.7,757.8 579.7,766.7 583.2,776.4 585.2,785 587.1,795 588.6,804.5 589.6,811" fill="#0A0A0A"/>
<polygon points="691.7,1014.3 694.8,1009.3 699.2,1002.2 704.5,993.7 710,984.7 715,975.9 718.9,967.9 722.7,957.5 725.2,947.7 726.5,938.4 726.5,929.3 722.8,918.5 717.2,909.7 713,904.2 707,907.8 710,913.9 713.9,922.1 715.5,930.7 714.9,937.1 713.1,944.7 710.2,953.1 706.1,962.1 702.4,969 697.5,977.1 691.9,985.6 686.4,993.8 681.6,1000.7 678.3,1005.7" fill="#0A0A0A"/>
<polygon points="743.8,1092.2 739.7,1089.8 734.8,1086.6 729,1082.5 722.4,1077.9 715.2,1072.8 707.5,1067.4 699.5,1061.8 691.3,1056.2 682.9,1050.7 674.5,1045.5 666.2,1040.6 658.2,1036.2 650.4,1032.2 642.6,1028.3 634.7,1024.7 626.7,1021.3 618.8,1018.1 610.9,1015 602.9,1012 595.1,1009.2 587.3,1006.4 579.6,1003.7 572.1,1001 564.6,998.4 556.4,995.4 548.4,992.7 540.4,990.1 532.5,987.6 524.6,985.2 516.9,982.8 509.2,980.5 501.5,978.2 493.9,975.8 486.2,973.3 478.5,970.6 470.7,967.9 462.9,965.1 455,962.3 447.1,959.5 439.2,956.6 431.4,953.7 423.6,950.7 415.9,947.7 408.2,944.6 400.7,941.5 393.2,938.2 385.6,934.9 377.5,931.2 369.3,927.2 360.9,923 352.7,918.8 344.7,914.7 337.1,910.8 330.1,907.2 323.9,904.1 318.5,901.4 314.2,899.4 310.8,905.6 314.7,908.2 319.7,911.4 325.6,915.2 332.2,919.4 339.4,924 347.1,928.7 355.1,933.6 363.2,938.4 371.3,943.2 379.2,947.6 386.8,951.8 394.2,955.5 401.8,959.2 409.4,962.7 417.1,966.2 424.9,969.7 432.6,973.1 440.4,976.4 448.2,979.7 456,983 463.7,986.2 471.5,989.4 479.2,992.5 486.9,995.5 494.6,998.4 502.2,1001.2 509.8,1004 517.4,1006.7 525,1009.5 532.5,1012.4 540.1,1015.3 547.7,1018.4 555.4,1021.6 562.7,1024.8 570,1028 577.5,1031.3 584.9,1034.5 592.4,1037.9 599.8,1041.3 607.1,1044.7 614.4,1048.3 621.5,1052 628.5,1055.8 635.3,1059.7 641.8,1063.8 648.3,1068.4 655.2,1073.6 662.3,1079.3 669.5,1085.3 676.7,1091.4 683.7,1097.6 690.5,1103.7 696.9,1109.5 702.7,1115 708,1119.9 712.6,1124.3 716.2,1127.8" fill="#0A0A0A"/>
<polygon points="581.7,1026.7 578.3,1020.7 573.5,1011.6 568.2,1001.7 563.3,992.6 559.9,986.6 550.1,991.4 552.7,997.8 556.9,1007.2 561.5,1017.5 565.6,1026.9 568.3,1033.3" fill="#0A0A0A"/>
<polygon points="609.5,1036.5 604.7,1036.9 598.6,1037.4 591.5,1037.9 583.6,1038.4 574.9,1039 565.6,1039.6 556,1040.2 546.2,1040.8 536.3,1041.5 526.5,1042.2 517,1043 507.9,1043.7 499.4,1044.5 490.7,1045.4 482,1046.3 473.6,1047.4 465.2,1048.5 456.9,1049.6 448.7,1050.8 440.6,1051.9 432.4,1053 424.3,1054 416.1,1055 407.9,1055.8 399.7,1056.5 391,1057.2 381.7,1057.8 372,1058.3 362.1,1058.7 352.2,1059.1 342.5,1059.4 333.1,1059.7 324.2,1059.9 316,1060.2 308.7,1060.4 302.4,1060.7 297.5,1061 297.5,1067 302.5,1067.2 308.7,1067.4 316,1067.7 324.2,1067.9 333.1,1068.2 342.5,1068.4 352.3,1068.6 362.3,1068.7 372.3,1068.8 382,1068.8 391.5,1068.7 400.3,1068.5 408.8,1068.1 417.3,1067.6 425.6,1066.9 433.9,1066.2 442.1,1065.5 450.4,1064.7 458.6,1063.9 466.9,1063.1 475.2,1062.3 483.5,1061.6 492,1061 500.6,1060.5 508.9,1060.2 517.9,1059.9 527.4,1059.6 537.1,1059.3 547,1059.1 556.8,1058.9 566.4,1058.8 575.6,1058.7 584.3,1058.6 592.3,1058.5 599.4,1058.5 605.6,1058.5 610.5,1058.5" fill="#0A0A0A"/>
<polygon points="784.3,1161.3 778,1162.3 769.5,1163 759.9,1163.4 750.4,1163.5 743.4,1163.1 735.3,1161.9 725.3,1160.3 713.6,1158.9 700.6,1158.6 692.1,1158.4 683.6,1158.7 674.8,1159.2 665.8,1159.8 656.7,1160.6 647.5,1161.3 638.5,1161.9 629.8,1162.3 621.3,1162.5 613,1162.3 604.5,1161.9 596.1,1161.5 587.6,1160.9 579.1,1160.2 570.6,1159.5 562,1158.7 553.4,1157.9 544.9,1157.1 536.5,1156.1 528.2,1155.1 519.9,1154 511.6,1152.8 503.2,1151.6 494.6,1150.3 485.9,1149.1 476.8,1147.8 467.5,1146.6 459.3,1145.6 450.4,1144.6 441,1143.5 431.3,1142.3 421.6,1141.2 412,1140.1 403,1139.1 394.6,1138.1 387.1,1137.3 380.7,1136.6 375.8,1136.1 373.2,1156.9 378.1,1157.6 384.4,1158.5 391.9,1159.5 400.3,1160.6 409.3,1161.8 418.8,1163.1 428.5,1164.4 438.2,1165.7 447.5,1167 456.4,1168.2 464.5,1169.4 473.6,1170.7 482.5,1172.1 491.1,1173.4 499.6,1174.8 508.1,1176.1 516.5,1177.4 524.9,1178.6 533.5,1179.8 542.1,1180.9 550.8,1182 559.4,1183.1 568.1,1184.1 576.8,1185 585.5,1185.9 594.2,1186.7 603,1187.4 611.8,1188 620.7,1188.5 629.9,1188.9 639.3,1189 648.7,1188.9 658.1,1188.8 667.1,1188.6 675.8,1188.5 684,1188.6 691.3,1188.9 697.4,1189.4 707.4,1192.2 715.6,1195.6 723.3,1199.5 731.5,1203.6 740.6,1207.5 751.6,1211.4 761.8,1214.9 770.1,1218 775.7,1220.7" fill="#0A0A0A"/>
<polygon points="559.8,1157.2 554.4,1153.8 546.8,1148.9 538.2,1143.2 529.9,1137.3 523.2,1131.8 516.3,1124.7 510.1,1116.8 504.9,1109.6 501.1,1104.6 496.9,1107.4 499.9,1112.9 504.4,1120.7 510.1,1129.6 516.8,1138.2 523.7,1144.8 531.9,1151.7 540.1,1158.2 547.3,1163.7 552.2,1167.8" fill="#0A0A0A"/>
<polygon points="730.6,1181 725.3,1181 717.9,1180.8 708.9,1180.4 699,1180.3 688.7,1180.6 678.7,1181.5 670.3,1183.1 662.1,1185.1 654,1187.4 645.8,1189.9 637.4,1192.5 628.8,1194.9 619.8,1197.1 612.1,1198.7 603.4,1200.4 594.1,1202.1 584.6,1203.8 575.2,1205.5 566.4,1207 558.5,1208.4 551.9,1209.6 546.9,1210.5 548.1,1218.5 553.1,1217.9 559.8,1217.2 567.8,1216.2 576.7,1215.1 586.1,1213.9 595.7,1212.7 605.2,1211.4 614.1,1210.1 622.2,1208.9 631.6,1207.2 640.7,1205.2 649.3,1203.2 657.6,1201.3 665.5,1199.6 673.1,1198.3 680.3,1197.5 689.2,1197.2 698.6,1197.6 707.9,1198.4 716.5,1199.4 723.9,1200.3 729.4,1201" fill="#0A0A0A"/>
<path d="M1080,625C1080.8,631.8 1080,645.8 1075,660C1070,674.2 1060,691.7 1050,710C1040,728.3 1026.7,755.4 1015,770C1003.3,784.6 992.5,791.7 980,797.5C967.5,803.3 953.3,799.6 940,805C926.7,810.4 909.2,817.5 900,830C890.8,842.5 890.8,868.8 885,880C879.2,891.2 869.8,897.5 865,897.5C860.2,897.5 854.3,891.2 856,880C857.7,868.8 867.7,844.2 875,830C882.3,815.8 885.8,805.8 900,795C914.2,784.2 943.3,776.7 960,765C976.7,753.3 988.3,740 1000,725C1011.7,710 1020.8,690.8 1030,675C1039.2,659.2 1048.3,639.3 1055,630C1061.7,620.7 1065.8,619.8 1070,619C1074.2,618.2 1079.2,618.2 1080,625Z" fill="#C6C5C6"/>
<path d="M1070,630C1070.8,635.8 1069.2,654.2 1062.5,670C1055.8,685.8 1040.4,708.3 1030,725C1019.6,741.7 1011.7,759.6 1000,770C988.3,780.4 973.3,783.3 960,787.5C946.7,791.7 920,797.9 920,795C920,792.1 945.8,780.8 960,770C974.2,759.2 992.1,745.8 1005,730C1017.9,714.2 1028.8,690.8 1037.5,675C1046.2,659.2 1052.1,642.5 1057.5,635C1062.9,627.5 1069.2,624.2 1070,630Z" fill="#E8E8E8"/>
<path d="M887.5,840C890.8,840.4 895.8,849.2 895,855C894.2,860.8 886.7,872.5 882.5,875C878.3,877.5 871.2,873.8 870,870C868.8,866.2 872.1,857.5 875,852.5C877.9,847.5 884.2,839.6 887.5,840Z" fill="#E8E8E8"/>
<path d="M500,805C501.7,799.8 508.3,794.8 520,799C531.7,803.2 559.6,829 570,830C580.4,831 578.3,810.4 582.5,805C586.7,799.6 591.2,795 595,797.5C598.8,800 603.8,809.6 605,820C606.2,830.4 600,846.7 602.5,860C605,873.3 611.2,886.7 620,900C628.8,913.3 646.2,926.7 655,940C663.8,953.3 670.8,972.1 672.5,980C674.2,987.9 670.4,991.7 665,987.5C659.6,983.3 650.8,968.8 640,955C629.2,941.2 615,920.8 600,905C585,889.2 565,872.5 550,860C535,847.5 518.3,839.2 510,830C501.7,820.8 498.3,810.2 500,805Z" fill="#C6C5C6"/>
<path d="M507.5,810C508.3,805.8 516.2,803.3 525,807.5C533.8,811.7 552.5,827.1 560,835C567.5,842.9 571.7,851.7 570,855C568.3,858.3 558.3,858.8 550,855C541.7,851.2 527.1,840 520,832.5C512.9,825 506.7,814.2 507.5,810Z" fill="#E8E8E8"/>
<ellipse cx="588" cy="852.5" rx="7" ry="10" fill="#E8E8E8"/>
<path d="M280,947.5C283.3,942.5 299.2,941.2 305,935C310.8,928.8 309.6,914.6 315,910C320.4,905.4 332.5,904.2 337.5,907.5C342.5,910.8 337.9,922.9 345,930C352.1,937.1 367.5,944.6 380,950C392.5,955.4 413.3,958.3 420,962.5C426.7,966.7 427.5,973.8 420,975C412.5,976.2 388.3,972.5 375,970C361.7,967.5 350.8,959.6 340,960C329.2,960.4 319.2,971.7 310,972.5C300.8,973.3 290,969.2 285,965C280,960.8 276.7,952.5 280,947.5Z" fill="#C6C5C6"/>
<ellipse cx="307.5" cy="952.5" rx="20" ry="14" fill="#E8E8E8"/>
<ellipse cx="328.5" cy="921" rx="7" ry="9" fill="#A9C0D0"/>
<path d="M457.5,990C461.7,987.9 476.2,987.9 490,990C503.8,992.1 528.8,997.1 540,1002.5C551.2,1007.9 550,1017.5 557.5,1022.5C565,1027.5 579.6,1028.8 585,1032.5C590.4,1036.2 595.8,1041.2 590,1045C584.2,1048.8 566.7,1052.5 550,1055C533.3,1057.5 508.3,1059.6 490,1060C471.7,1060.4 456.7,1055.8 440,1057.5C423.3,1059.2 402.9,1068.8 390,1070C377.1,1071.2 365.8,1067.5 362.5,1065C359.2,1062.5 359.6,1057.9 370,1055C380.4,1052.1 407.5,1051.2 425,1047.5C442.5,1043.8 457.5,1034.6 475,1032.5C492.5,1030.4 519.2,1036.2 530,1035C540.8,1033.8 543.3,1029.2 540,1025C536.7,1020.8 522.5,1013.8 510,1010C497.5,1006.2 473.8,1005.8 465,1002.5C456.2,999.2 453.3,992.1 457.5,990Z" fill="#C6C5C6"/>
<path d="M460,1040C463.8,1037.9 477.1,1034.6 485,1035C492.9,1035.4 507.5,1040 507.5,1042.5C507.5,1045 492.5,1049.2 485,1050C477.5,1050.8 466.7,1049.2 462.5,1047.5C458.3,1045.8 456.2,1042.1 460,1040Z" fill="#E8E8E8"/>
<ellipse cx="555" cy="1041" rx="11" ry="5" fill="#E8E8E8"/>
<path d="M700,1052.5C701.7,1047.5 716.7,1049.6 725,1050C733.3,1050.4 743.8,1057.5 750,1055C756.2,1052.5 758.8,1037.5 762.5,1035C766.2,1032.5 767.9,1028.3 772.5,1040C777.1,1051.7 785.4,1080.8 790,1105C794.6,1129.2 799.6,1168.3 800,1185C800.4,1201.7 795.8,1204.2 792.5,1205C789.2,1205.8 783.8,1200 780,1190C776.2,1180 775.8,1158.3 770,1145C764.2,1131.7 754.2,1120.8 745,1110C735.8,1099.2 722.5,1089.6 715,1080C707.5,1070.4 698.3,1057.5 700,1052.5Z" fill="#C6C5C6"/>
<path d="M712.5,1060C715,1057.5 727.9,1055.8 735,1060C742.1,1064.2 748.3,1073.3 755,1085C761.7,1096.7 772.5,1121.7 775,1130C777.5,1138.3 775,1140 770,1135C765,1130 753.3,1110 745,1100C736.7,1090 725.4,1081.7 720,1075C714.6,1068.3 710,1062.5 712.5,1060Z" fill="#E8E8E8"/>
<path d="M870,1065C872.9,1055.8 880.4,1052.5 885,1055C889.6,1057.5 892.5,1063.3 897.5,1080C902.5,1096.7 902.1,1146.7 915,1155C927.9,1163.3 954.2,1140 975,1130C995.8,1120 1024.2,1100.8 1040,1095C1055.8,1089.2 1065,1091.7 1070,1095C1075,1098.3 1080,1106.7 1070,1115C1060,1123.3 1030,1133.3 1010,1145C990,1156.7 966.7,1171.7 950,1185C933.3,1198.3 920,1210.8 910,1225C900,1239.2 895.4,1255 890,1270C884.6,1285 881.8,1304.8 877.5,1315C873.2,1325.2 867.9,1331.8 864,1331C860.1,1330.2 855.9,1323.5 854,1310C852.1,1296.5 851.9,1268.3 852.5,1250C853.1,1231.7 854.2,1215 857.5,1200C860.8,1185 870.8,1175 872.5,1160C874.2,1145 867.9,1125.8 867.5,1110C867.1,1094.2 867.1,1074.2 870,1065Z" fill="#C6C5C6"/>
<path d="M882.5,1130C886.2,1125.8 893.3,1147.5 895,1160C896.7,1172.5 895.4,1190.8 892.5,1205C889.6,1219.2 881.2,1232.5 877.5,1245C873.8,1257.5 872.5,1273.8 870,1280C867.5,1286.2 864,1287.5 862.5,1282.5C861,1277.5 859.3,1266.2 861,1250C862.7,1233.8 868.9,1205 872.5,1185C876.1,1165 878.8,1134.2 882.5,1130Z" fill="#E8E8E8"/>
<path d="M1225,890C1232.5,886.7 1239.2,891.7 1235,900C1230.8,908.3 1197.5,931.7 1200,940C1202.5,948.3 1229.2,951.2 1250,950C1270.8,948.8 1305,936.2 1325,932.5C1345,928.8 1362.1,925.4 1370,927.5C1377.9,929.6 1380,937.9 1372.5,945C1365,952.1 1345.4,964.2 1325,970C1304.6,975.8 1275,976.7 1250,980C1225,983.3 1196.7,986.7 1175,990C1153.3,993.3 1137.5,993.3 1120,1000C1102.5,1006.7 1084.2,1023.8 1070,1030C1055.8,1036.2 1041.2,1039.2 1035,1037.5C1028.8,1035.8 1025,1028.8 1032.5,1020C1040,1011.2 1060.4,996.7 1080,985C1099.6,973.3 1131.7,960.8 1150,950C1168.3,939.2 1177.5,930 1190,920C1202.5,910 1217.5,893.3 1225,890Z" fill="#C6C5C6"/>
<path d="M1045,1012.5C1053.8,1004.6 1080,986.7 1100,975C1120,963.3 1152.9,945.8 1165,942.5C1177.1,939.2 1180,947.9 1172.5,955C1165,962.1 1138.8,974.2 1120,985C1101.2,995.8 1072.1,1013.8 1060,1020C1047.9,1026.2 1050,1023.8 1047.5,1022.5C1045,1021.2 1036.2,1020.4 1045,1012.5Z" fill="#E8E8E8"/>
<path d="M396,1860C396.8,1852.9 406.8,1846.2 420,1842.5C433.2,1838.8 455,1837.5 475,1837.5C495,1837.5 515,1843.3 540,1842.5C565,1841.7 600,1834.2 625,1832.5C650,1830.8 672.5,1835 690,1832.5C707.5,1830 716.7,1819.6 730,1817.5C743.3,1815.4 759.2,1816.7 770,1820C780.8,1823.3 793.8,1830.8 795,1837.5C796.2,1844.2 778.3,1852.9 777.5,1860C776.7,1867.1 777.9,1876.2 790,1880C802.1,1883.8 831.7,1881.2 850,1882.5C868.3,1883.8 885,1883.3 900,1887.5C915,1891.7 935.8,1900 940,1907.5C944.2,1915 940,1926.2 925,1932.5C910,1938.8 877.5,1942.1 850,1945C822.5,1947.9 785,1947.5 760,1950C735,1952.5 722.5,1957.1 700,1960C677.5,1962.9 650,1967.5 625,1967.5C600,1967.5 575,1963.8 550,1960C525,1956.2 494.6,1950.8 475,1945C455.4,1939.2 437.5,1932.5 432.5,1925C427.5,1917.5 447.9,1906.7 445,1900C442.1,1893.3 423.2,1891.7 415,1885C406.8,1878.3 395.2,1867.1 396,1860Z" fill="#C6C5C6"/>
<path d="M412.5,1862.5C414.6,1858.8 422.9,1851.7 435,1850C447.1,1848.3 467.5,1850 485,1852.5C502.5,1855 527.5,1861.2 540,1865C552.5,1868.8 561.7,1872.1 560,1875C558.3,1877.9 545.8,1882.1 530,1882.5C514.2,1882.9 482.9,1879.2 465,1877.5C447.1,1875.8 431.2,1875 422.5,1872.5C413.8,1870 410.4,1866.2 412.5,1862.5Z" fill="#E8E8E8"/>
<path d="M445,1915C445.8,1911.2 455.8,1907.1 465,1907.5C474.2,1907.9 491.8,1913.8 500,1917.5C508.2,1921.2 515.7,1926.4 514,1930C512.3,1933.6 499,1939 490,1939C481,1939 467.5,1934 460,1930C452.5,1926 444.2,1918.8 445,1915Z" fill="#E8E8E8"/>
</g>
<g id="house">
<polygon points="3009,2484 3009,2548 3284,2548 4228,2024 4228,1900 4005,1905" fill="#BBB9BA"/>
<polygon points="4005,1850 4215,1750 4215,2030 4005,1906" fill="#858E8C"/>
<polygon points="3490,2204 3696,2086 3694,2321" fill="#666261"/>
<polygon points="3009,2433 4215,1735 4215,1788 3009,2485.5" fill="#D9E6CE"/>
<polygon points="3009,2433 3009,2485.5 1795,1783 1795,1730" fill="#332F2E"/>
<polygon points="3009,2433 1800,1734 2474,1340 3692,2039" fill="#BBD4A8"/>
<polygon points="3432,1282 4215,1735 3694,2037.5 3283,1801 3283,1368" fill="#8CB072"/>
<polygon points="2474,908 3001,603 3001,1000 3432,852 3432,1282 3283,1368 3283,1500 2474,1200" fill="#467822"/>
<polygon points="3001,603 3424,848 3053,1065 3025,1048 3001,1034" fill="#35561E"/>
<polygon points="1808,1294 2474,908 2474,1290 2120,1496" fill="#35561E"/>
<polygon points="3432,852 4215,1304 4215,1733 3432,1282" fill="#679243"/>
<polygon points="1795,1291 3001,587 3014,596 3001,603 1808,1294" fill="#CDCCCA"/>
<polygon points="3001,603 3014,596 4228,1296 4215,1304" fill="#BED6A8"/>
<polygon points="4215,1304 4228,1296 4228,2023 4215,2031" fill="#696463"/>
<polygon points="3424.7,847.8 3439,856 3430.8,861.2 2917.4,1160.7 2908.5,1152.2" fill="#BED6A8"/>
</g>
<g id="furn">
<polygon points="3025,1047.9 3054.2,1065.3 2915.4,1147.3 2899.1,1141.2 3025,1071" fill="#5E88A6"/>
<polygon points="3022.9,967.9 3025,1071 2895.1,1141.2 2834.2,1106.7 2834.2,1076.3" fill="#B9B7B6"/>
<path d="M2835.7,1077.8 L2835.7,1139.8 M2838.8,1076.1 L2838.8,1138.7 M2841.8,1074.3 L2841.9,1137.6 M2844.9,1072.6 L2845,1136.4 M2847.9,1070.9 L2848,1135.3 M2850.9,1069.1 L2851.1,1134.2 M2854,1067.4 L2854.2,1133 M2857,1065.6 L2857.3,1131.9 M2860.1,1063.9 L2860.4,1130.8 M2863.1,1062.1 L2863.4,1129.6 M2866.2,1060.4 L2866.5,1128.5 M2869.2,1058.6 L2869.6,1127.4 M2872.3,1056.9 L2872.7,1126.3 M2875.3,1055.1 L2875.7,1125.1 M2878.3,1053.4 L2878.8,1124 M2881.4,1051.6 L2881.9,1122.9 M2884.4,1049.9 L2885,1121.7 M2887.5,1048.1 L2888,1120.6 M2890.5,1046.4 L2891.1,1119.5 M2893.6,1044.6 L2894.2,1118.3 M2896.6,1042.9 L2897.3,1117.2 M2899.6,1041.1 L2900.4,1116.1 M2902.7,1039.4 L2903.4,1114.9 M2905.7,1037.6 L2906.5,1113.8 M2908.8,1035.9 L2909.6,1112.7 M2911.8,1034.1 L2912.7,1111.5 M2914.9,1032.4 L2915.7,1110.4 M2917.9,1030.7 L2918.8,1109.3 M2921,1028.9 L2921.9,1108.1 M2924,1027.2 L2925,1107 M2927,1025.4 L2928,1105.9 M2930.1,1023.7 L2931.1,1104.7 M2933.1,1021.9 L2934.2,1103.6 M2936.2,1020.2 L2937.3,1102.5 M2939.2,1018.4 L2940.3,1101.3 M2942.3,1016.7 L2943.4,1100.2 M2945.3,1014.9 L2946.5,1099.1 M2948.3,1013.2 L2949.6,1097.9 M2951.4,1011.4 L2952.7,1096.8 M2954.4,1009.7 L2955.7,1095.7 M2957.5,1007.9 L2958.8,1094.5 M2960.5,1006.2 L2961.9,1093.4 M2963.6,1004.4 L2965,1092.3 M2966.6,1002.7 L2968,1091.1 M2969.7,1000.9 L2971.1,1090 M2972.7,999.2 L2974.2,1088.9 M2975.7,997.4 L2977.3,1087.7 M2978.8,995.7 L2980.3,1086.6 M2981.8,994 L2983.4,1085.5 M2984.9,992.2 L2986.5,1084.4 M2987.9,990.5 L2989.6,1083.2 M2991,988.7 L2992.6,1082.1 M2994,987 L2995.7,1081 M2997,985.2 L2998.8,1079.8 M3000.1,983.5 L3001.9,1078.7 M3003.1,981.7 L3005,1077.6 M3006.2,980 L3008,1076.4 M3009.2,978.2 L3011.1,1075.3 M3012.3,976.5 L3014.2,1074.2 M3015.3,974.7 L3017.3,1073 M3018.4,973 L3020.3,1071.9 M3021.4,971.2 L3023.4,1070.8" stroke="#6E6A68" stroke-width="1.6" fill="none"/>
<polygon points="3001.4,949.3 3025,962.6 3022.9,968.7 2834.2,1077.1 2811.9,1064.1" fill="#CDCCCA"/>
<polygon points="3053.4,692.8 3091.9,670.4 3183.2,724 3144.7,746.3" fill="#CDCCCA"/>
<polygon points="3144.7,746.3 3183.2,724 3183.2,868.5 3144.7,890.8" fill="#6E6A68"/>
<polygon points="3053.4,692.8 3144.7,746.3 3144.7,890.8 3053.4,838.1" fill="#AEABA8"/>
<polygon points="3065.5,716.3 3131.7,754.4 3131.7,805.6 3065.5,767.8" fill="#CDCCCA"/>
<polygon points="3065.5,782 3131.7,820.6 3131.7,868.1 3065.5,830.7" fill="#CDCCCA"/>
<polygon points="2901.2,717.1 2929.6,701.7 2929.6,748.8 2901.2,764.2" fill="#FFFFFF"/>
<circle cx="2916.2" cy="724" r="4" fill="#444041"/>
<polygon points="2903.2,744.7 2928.4,732.5 2928.4,746.3 2903.2,758.5" fill="#E9E9E9"/>
<path d="M2903.6,744.5 L2903.2,746 M2905.4,743.7 L2903.2,752.2 M2907.2,742.8 L2903.2,758.5 M2908.9,741.9 L2905,757.6 M2910.7,741.1 L2906.8,756.8 M2912.5,740.2 L2908.6,755.9 M2914.3,739.3 L2910.4,755 M2916.1,738.4 L2912.2,754.2 M2917.9,737.6 L2914,753.3 M2919.7,736.7 L2915.8,752.4 M2921.5,735.8 L2917.6,751.5 M2923.3,735 L2919.4,750.7 M2925.1,734.1 L2921.2,749.8 M2926.9,733.2 L2923,748.9 M2928.4,733.8 L2924.8,748.1 M2928.4,740.1 L2926.6,747.2 M2928.4,746.3 L2928.4,746.3" stroke="#3F3D3E" stroke-width="0.9" fill="none"/>
<polygon points="3227.5,1082.5 3395,985 3395,1303 3227.5,1400" fill="#FFFFFF"/>
<polygon points="3395,985 3410,977 3410,1295 3395,1303" fill="#D0D0D0"/>
<ellipse cx="3248.5" cy="1237.5" rx="8" ry="10" fill="#8B8A88"/>
<ellipse cx="3249.5" cy="1237.5" rx="5" ry="6.5" fill="#C8C8C8"/>
<polygon points="3250,1239 3275,1226.5 3278.5,1231 3256,1245" fill="#8B8A88"/>
<polygon points="3516.8,1247.5 3586.7,1206.9 3742.2,1296.6 3672.3,1337.6" fill="#A6A6A6"/>
<polygon points="3516.8,1247.5 3672.3,1337.6 3672.3,1503.7 3516.8,1414.5" fill="#777372"/>
<polygon points="3672.3,1337.6 3742.2,1296.6 3742.2,1462.8 3672.3,1503.7" fill="#4A4947"/>
<polyline points="3516.8,1263.9 3675.5,1351.2" fill="none" stroke="#231F20" stroke-width="1.2"/>
<polyline points="3516.8,1309 3675.5,1396.3" fill="none" stroke="#231F20" stroke-width="1.2"/>
<polyline points="3516.8,1353.7 3675.5,1441" fill="none" stroke="#231F20" stroke-width="1.2"/>
<polyline points="3516.8,1398.8 3675.5,1486.1" fill="none" stroke="#231F20" stroke-width="1.2"/>
<polyline points="3675.5,1351.2 3675.5,1486.4" fill="none" stroke="#231F20" stroke-width="1.2"/>
<polygon points="3590.4,1338.3 3610.8,1338.8 3619,1357.4 3596.6,1345" fill="#5F5B5A"/>
<polygon points="3578,1323.4 3584.2,1319 3589.7,1321.9 3589.7,1325.9 3604.1,1334.3 3606.6,1331.4 3610.8,1333.8 3610.8,1337.6 3604.1,1341.8 3578,1326.9" fill="#EDE3D2"/>
<polygon points="3578,1326.9 3604.1,1341.8 3610.8,1337.6 3610.8,1335.1 3604.1,1338.8 3578,1324.4" fill="#D5C9B6"/>
<polygon points="3586.7,1385.4 3607.1,1385.9 3615.2,1404.5 3592.9,1392.1" fill="#5F5B5A"/>
<polygon points="3574.3,1370.6 3580.5,1366.1 3586,1369.1 3586,1373 3600.4,1381.5 3602.8,1378.5 3607.1,1381 3607.1,1384.7 3600.4,1388.9 3574.3,1374" fill="#EDE3D2"/>
<polygon points="3574.3,1374 3600.4,1388.9 3607.1,1384.7 3607.1,1382.2 3600.4,1385.9 3574.3,1371.5" fill="#D5C9B6"/>
<polygon points="3586.7,1430.6 3607.1,1431.1 3615.2,1449.7 3592.9,1437.3" fill="#5F5B5A"/>
<polygon points="3574.3,1415.7 3580.5,1411.2 3586,1414.2 3586,1418.2 3600.4,1426.6 3602.8,1423.6 3607.1,1426.1 3607.1,1429.8 3600.4,1434 3574.3,1419.2" fill="#EDE3D2"/>
<polygon points="3574.3,1419.2 3600.4,1434 3607.1,1429.8 3607.1,1427.4 3600.4,1431.1 3574.3,1416.7" fill="#D5C9B6"/>
<polygon points="3941.3,1468.3 3949.2,1464.2 4113,1558.5 4104.8,1562.7" fill="#A6A6A6"/>
<polygon points="4104.8,1562.7 4113,1558.5 4113,1681.9 4104.8,1687.1" fill="#777372"/>
<polygon points="3941.3,1468.3 4104.8,1562.7 4104.8,1647.4 3941.3,1554" fill="#231F20"/>
<polygon points="3778.9,1837.4 4104.8,1640.4 4113,1644.6 4113,1681.9 3778.9,1874.8" fill="#777372"/>
<polygon points="3692.5,1808.1 3778.9,1851.3 3778.9,1874.8 3692.5,1827.1" fill="#231F20"/>
<polygon points="3787.5,1849.5 4019,1716.5 4019,1720.6 3787.5,1853.7" fill="#231F20"/>
<polygon points="4027.7,1651.5 4100.3,1608.6 4100.3,1637 4029.4,1680.2" fill="#D0D0D0"/>
<polygon points="3876.7,1559.2 3949.9,1517.8 4100.3,1608.6 4027.7,1651.5" fill="#F3F3F5"/>
<polygon points="3925.7,1531.6 3949.9,1518.8 3958.6,1522.3 3932.6,1536.8" fill="#A6A6A6"/>
<polygon points="4065.7,1588.6 4096.8,1605.9 4100.3,1609.3 4100.3,1612.8 4064,1597.2" fill="#B0AFAF"/>
<polygon points="3893.9,1565.1 3911.9,1555.8 4027.7,1622.5 4026,1629.4 4007,1629.4 3893.9,1570.6" fill="#8B8A88"/>
<polygon points="3909.1,1550.6 3919.5,1543.7 4017.3,1600.7 4008,1612.8 3909.1,1562.7" fill="#C0BFBF"/>
<polygon points="3909.1,1562.7 4008,1616.9 4008,1626.6 3909.1,1570.6" fill="#B0AFAF"/>
<polygon points="4008,1612.8 4017.3,1600.7 4027,1612.8 4026,1626.6 4008,1626.6" fill="#D9D9D9"/>
<polygon points="3919.5,1543.7 3958.6,1521.9 4066.4,1582.7 4066.4,1597.2 4027,1619.7 4017.3,1600.7" fill="#F3F3F5"/>
<polygon points="4027,1612.8 4066.4,1592.1 4066.4,1598.3 4027,1620.4" fill="#DADADA"/>
<polygon points="3692.5,1657 3868.7,1555.8 4020.8,1643.9 4029.4,1662.9 3779.9,1785.6 3692.5,1737.9" fill="#BBD4A8"/>
<polygon points="3779.9,1785.6 4029.4,1662.9 4030.1,1709.6 4019,1716.5 3787.5,1849.5 3785.8,1801.1" fill="#8CB072"/>
<polygon points="3692.5,1737.9 3779.9,1785.6 3785.8,1801.1 3766.8,1801.1 3692.5,1759.7" fill="#679243"/>
<polygon points="3692.5,1759.7 3766.8,1801.1 3785.8,1801.1 3787.5,1849.5 3766.8,1849.5 3692.5,1808.1" fill="#467822"/>
<polygon points="4077,1396 4107,1413.3 4107,1460.3 4077,1443" fill="#FFFFFF"/>
<circle cx="4092" cy="1417.4" r="4.5" fill="#444041"/>
<polygon points="4080,1422.2 4104,1436 4104,1451.5 4080,1437.7" fill="#E9E9E9"/>
<path d="M4080.3,1422.4 L4080,1423.6 M4082.1,1423.4 L4080,1430.6 M4083.8,1424.3 L4080,1437.7 M4085.5,1425.3 L4081.7,1438.7 M4087.2,1426.3 L4083.4,1439.7 M4088.9,1427.3 L4085.1,1440.7 M4090.6,1428.3 L4086.9,1441.6 M4092.3,1429.3 L4088.6,1442.6 M4094.1,1430.3 L4090.3,1443.6 M4095.8,1431.3 L4092,1444.6 M4097.5,1432.3 L4093.7,1445.6 M4099.2,1433.3 L4095.4,1446.6 M4100.9,1434.2 L4097.1,1447.6 M4102.6,1435.2 L4098.9,1448.6 M4104,1437.4 L4100.6,1449.6 M4104,1444.5 L4102.3,1450.5 M4104,1451.5 L4104,1451.5" stroke="#3F3D3E" stroke-width="0.9" fill="none"/>
<polygon points="4146,1838 4175,1854.7 4175,1900.7 4146,1884" fill="#FFFFFF"/>
<circle cx="4160.5" cy="1858.8" r="4.3" fill="#444041"/>
<polygon points="4148.9,1863.6 4172.1,1877 4172.1,1892.2 4148.9,1878.8" fill="#E9E9E9"/>
<path d="M4149.2,1863.8 L4148.9,1865 M4150.9,1864.7 L4148.9,1871.9 M4152.5,1865.7 L4148.9,1878.8 M4154.2,1866.7 L4150.6,1879.7 M4155.9,1867.6 L4152.2,1880.7 M4157.5,1868.6 L4153.9,1881.6 M4159.2,1869.5 L4155.5,1882.6 M4160.8,1870.5 L4157.2,1883.6 M4162.5,1871.4 L4158.8,1884.5 M4164.1,1872.4 L4160.5,1885.5 M4165.8,1873.4 L4162.2,1886.4 M4167.5,1874.3 L4163.8,1887.4 M4169.1,1875.3 L4165.5,1888.3 M4170.8,1876.2 L4167.1,1889.3 M4172.1,1878.4 L4168.8,1890.3 M4172.1,1885.3 L4170.4,1891.2 M4172.1,1892.2 L4172.1,1892.2" stroke="#3F3D3E" stroke-width="0.9" fill="none"/>
<polygon points="3625,2148 3654,2164.7 3654,2210.7 3625,2194" fill="#FFFFFF"/>
<circle cx="3639.5" cy="2168.8" r="4.3" fill="#444041"/>
<polygon points="3627.9,2173.6 3651.1,2187 3651.1,2202.2 3627.9,2188.8" fill="#E9E9E9"/>
<path d="M3628.2,2173.8 L3627.9,2175 M3629.9,2174.7 L3627.9,2181.9 M3631.5,2175.7 L3627.9,2188.8 M3633.2,2176.7 L3629.6,2189.7 M3634.9,2177.6 L3631.2,2190.7 M3636.5,2178.6 L3632.9,2191.6 M3638.2,2179.5 L3634.5,2192.6 M3639.8,2180.5 L3636.2,2193.6 M3641.5,2181.4 L3637.8,2194.5 M3643.1,2182.4 L3639.5,2195.5 M3644.8,2183.4 L3641.2,2196.4 M3646.5,2184.3 L3642.8,2197.4 M3648.1,2185.3 L3644.5,2198.3 M3649.8,2186.2 L3646.1,2199.3 M3651.1,2188.4 L3647.8,2200.3 M3651.1,2195.3 L3649.4,2201.2 M3651.1,2202.2 L3651.1,2202.2" stroke="#3F3D3E" stroke-width="0.9" fill="none"/>
<polygon points="2474,917.8 3678.5,1618.6 3681.5,2044.7 2474,1340.6" fill="#467822"/>
<polygon points="2474,892.7 3691,1611.8 3678.5,1618.6 2474,917.8" fill="#CDCCCA"/>
<polygon points="3678.5,1618.6 3691,1611.8 3694,2037.5 3681.5,2044.7" fill="#6B6664"/>
<polygon points="2067.1,1217.8 2079.9,1225.1 2080.7,1451.7 2068.1,1444.6" fill="#6E6A68"/>
<polygon points="2067.1,1217.8 2196.9,1142.9 2209,1150.2 2079.9,1225.1" fill="#CDCCCA"/>
<polygon points="2079.9,1225.1 2209,1150.2 2210,1377 2080.7,1451.7" fill="#AEABA8"/>
<polygon points="2097,1234.3 2179.3,1187.8 2191.6,1181 2191.6,1263.8 2097.8,1317.6" fill="#CDCCCA"/>
<polygon points="2179.3,1187.8 2191.1,1181 2191.6,1264 2179.3,1256.7" fill="#6E6A68"/>
<polygon points="2097,1234.3 2179.3,1187.8 2179.3,1256.7 2097,1303.2" fill="#FFFFFF"/>
<polygon points="2097,1337.9 2179.3,1291.4 2191.6,1284.5 2191.6,1367.3 2097.8,1421.2" fill="#CDCCCA"/>
<polygon points="2179.3,1291.4 2191.1,1284.5 2191.6,1367.6 2179.3,1360.2" fill="#6E6A68"/>
<polygon points="2097,1337.9 2179.3,1291.4 2179.3,1360.2 2097,1406.7" fill="#FFFFFF"/>
<polygon points="2210,1545 2505,1374 2505,1506 2210,1677" fill="#797574"/>
<polygon points="2254,1536 2359,1475 2359,1570 2254,1631" fill="#A6A6A6"/>
<polygon points="2374,1466 2492.5,1397.5 2492.5,1496 2374,1565" fill="#A6A6A6"/>
<ellipse cx="2385.5" cy="1515" rx="3.5" ry="5" fill="#FFFFFF"/>
<polygon points="2505,1374 2780,1533 2780,1665 2505,1506" fill="#4A4947"/>
<polygon points="2517.5,1396 2625,1458 2625,1556 2517.5,1494" fill="#797574"/>
<polygon points="2640,1467.5 2746,1528.5 2746,1631 2640,1569" fill="#797574"/>
<ellipse cx="2610" cy="1500" rx="3.5" ry="5" fill="#FFFFFF"/>
<ellipse cx="2653" cy="1523" rx="3.5" ry="5" fill="#FFFFFF"/>
<polygon points="2117.5,1491.5 2474,1285 2820,1485 2780,1533 2505,1374 2210,1545" fill="#A6A6A6"/>
<polygon points="2306.5,1395 2365,1430 2365,1436 2306.5,1401" fill="#CDCCCA"/>
<polygon points="2365,1430 2462.5,1372.5 2462.5,1378.5 2365,1436" fill="#BDBCBB"/>
<polygon points="2306.5,1395 2404,1338.5 2462.5,1372.5 2365,1430" fill="#E6E6E6"/>
<ellipse cx="2375" cy="1378.5" rx="9" ry="4.5" fill="#A6A6A6" transform="rotate(-30 2375 1378.5)"/>
<polygon points="2349,1340 2354,1336 2370,1350 2369,1356 2355,1347.5 2355,1365 2349,1362" fill="#C8C7C5"/>
<polygon points="3315,1516 3332.5,1526 3332.5,1844 3315,1834" fill="#D0D0D0"/>
<polygon points="3332.5,1526 3497.5,1620 3497.5,1937.5 3332.5,1844" fill="#FFFFFF"/>
<ellipse cx="3477.5" cy="1775" rx="8" ry="10" fill="#8B8A88"/>
<ellipse cx="3476.5" cy="1775" rx="5" ry="6.5" fill="#C8C8C8"/>
<polygon points="3446.5,1767.5 3450,1764 3476,1776 3472.5,1782.5" fill="#8B8A88"/>
<polygon points="2886,1717.5 2775,1653.4 2775,1498.4 2886,1562.5" fill="#C8C8C8"/>
<polygon points="2886,1717.5 2995,1654.6 2995,1499.6 2886,1562.5" fill="#918E8B"/>
<polygon points="2886,1562.5 2775,1498.4 2884,1435.5 2995,1499.6" fill="#E6E6E6"/>
<polygon points="2775,1500 2886,1564 2886,1597.5 2775,1534" fill="#161513"/>
<polygon points="2781,1550 2880,1607 2880,1705 2781,1648" fill="#DADADA"/>
<polygon points="2787.5,1572.5 2874,1622.5 2874,1696 2787.5,1646" fill="#161513"/>
<polygon points="2797.5,1578.5 2815,1588.5 2860,1687.5 2842.5,1677.5" fill="#2C2B29"/>
<polygon points="2825,1594.5 2835,1600 2874,1680 2874,1696 2867.5,1692.5" fill="#2C2B29"/>
<polygon points="2778.4,1564.7 2872.3,1616.3 2872.3,1619.2 2778.4,1567.7" fill="#8B8B8B"/>
<polygon points="2778.4,1553 2872.3,1604.5 2872.3,1616.3 2778.4,1564.7" fill="#EDEDED"/>
<polygon points="2872.3,1604.5 2876.3,1602.3 2876.3,1613.3 2872.3,1616.3" fill="#BDBDBD"/>
<ellipse cx="2794" cy="1528.5" rx="6.5" ry="8.5" fill="#E6E6E6"/>
<ellipse cx="2793" cy="1528.5" rx="4" ry="5.5" fill="#BDBDBD"/>
<ellipse cx="2816" cy="1541" rx="6.5" ry="8.5" fill="#E6E6E6"/>
<ellipse cx="2815" cy="1541" rx="4" ry="5.5" fill="#BDBDBD"/>
<ellipse cx="2838" cy="1553.5" rx="6.5" ry="8.5" fill="#E6E6E6"/>
<ellipse cx="2837" cy="1553.5" rx="4" ry="5.5" fill="#BDBDBD"/>
<ellipse cx="2860" cy="1566" rx="6.5" ry="8.5" fill="#E6E6E6"/>
<ellipse cx="2859" cy="1566" rx="4" ry="5.5" fill="#BDBDBD"/>
<polygon points="2786,1504 2885,1449 2985,1504 2886,1559" fill="#C8C8C8"/>
<polygon points="2792.5,1504 2885,1453 2978.5,1504 2886,1555" fill="#E6E6E6"/>
<ellipse cx="2886" cy="1475" rx="14.9" ry="8.8" fill="#FFFFFF"/>
<ellipse cx="2886" cy="1474" rx="13" ry="7.5" fill="#161513"/>
<ellipse cx="2935" cy="1499" rx="12.6" ry="7.5" fill="#FFFFFF"/>
<ellipse cx="2935" cy="1498" rx="11" ry="6.4" fill="#161513"/>
<ellipse cx="2886" cy="1525" rx="18.4" ry="10.9" fill="#FFFFFF"/>
<ellipse cx="2886" cy="1524" rx="16" ry="9.3" fill="#161513"/>
<ellipse cx="2839" cy="1502.5" rx="16.1" ry="9.5" fill="#FFFFFF"/>
<ellipse cx="2839" cy="1501.5" rx="14" ry="8.1" fill="#161513"/>
<ellipse cx="2842.5" cy="1502.5" rx="20" ry="11" fill="#C8C8C8"/>
<polygon points="2829,1475 2856,1475 2860,1502.5 2852.5,1507.5 2835,1507.5 2826,1502.5" fill="#D9D9D9"/>
<polygon points="2826,1459 2860,1459 2856,1475 2829,1475" fill="#BDBDBD"/>
<polygon points="2835,1475 2845,1475 2846,1507.5 2835,1507.5" fill="#F4F4F4"/>
<polygon points="2827.5,1452.5 2842.5,1446 2859,1452.5 2860,1459 2826,1459" fill="#E6E6E6"/>
<polygon points="2826,1459 2831,1456 2835,1467.5 2829,1470" fill="#F4F4F4"/>
<circle cx="2842.5" cy="1446.5" r="3.5" fill="#231F20"/>
<path d="M 2857.5,1450 Q 2872.5,1449 2867.5,1467.5 L 2862.5,1475 L 2860,1472.5 Q 2866,1456 2856,1455 Z" fill="#231F20"/>
<circle cx="2848.5" cy="1489" r="2" fill="#D98A3D"/>
<polygon points="2825.9,1293.1 2823.6,1295.7 2820.4,1299.5 2817,1304.2 2814,1309.3 2812.2,1313 2810.4,1317 2808.7,1321.3 2807.3,1325.8 2806.3,1330.6 2805.8,1335.7 2805.9,1339.8 2806.3,1344.1 2807,1348.6 2807.9,1353.1 2809,1357.6 2810.3,1362 2811.6,1366.1 2813.2,1369.9 2815.7,1374.3 2818.8,1378.3 2822,1381.8 2825.2,1384.9 2828,1387.7 2830.1,1390.3 2833.1,1395.1 2835,1399 2835.9,1401.9 2835.3,1405.1 2834,1407.2 2834.7,1407.9 2837,1406 2838.7,1402.1 2838.1,1398 2836.4,1393.4 2833.5,1388 2831.1,1384.9 2828.3,1381.9 2825.2,1378.7 2822.2,1375.4 2819.5,1371.8 2817.3,1367.9 2815.9,1364.5 2814.5,1360.6 2813.3,1356.5 2812.2,1352.2 2811.3,1347.8 2810.6,1343.5 2810.1,1339.5 2809.9,1335.8 2810.1,1331.2 2810.9,1326.7 2812.1,1322.4 2813.5,1318.2 2815,1314.2 2816.5,1310.6 2819,1305.4 2822,1300.6 2824.8,1296.6 2826.7,1293.7" fill="#FFFFFF"/>
<polygon points="2825.8,1337.4 2824.8,1340.3 2823.3,1344.4 2822.1,1349.2 2821.9,1354.3 2822.6,1358.4 2823.8,1362.8 2825.5,1367.3 2827.6,1371.6 2830.2,1375.7 2833.6,1379.3 2837.6,1382.4 2841.8,1385.2 2845.5,1387.9 2848.5,1390.7 2851.6,1394.5 2854.2,1398.6 2856.2,1402.5 2857.4,1406 2857.9,1410.4 2857.2,1414.3 2855.5,1417.5 2851.8,1420.1 2846.5,1422.2 2842.7,1423.6 2843,1424.6 2847,1423.7 2852.7,1422.2 2857.4,1419.6 2860.2,1415.6 2861.6,1410.7 2861.4,1405.3 2860.2,1401 2858.1,1396.5 2855.3,1391.9 2851.9,1387.6 2848.4,1384.4 2844.3,1381.5 2840.1,1378.8 2836.4,1376.1 2833.4,1373.1 2831,1369.6 2828.8,1365.8 2827,1361.7 2825.6,1357.7 2824.7,1354 2824.5,1349.5 2825.2,1344.8 2826.2,1340.7 2826.8,1337.7" fill="#FFFFFF"/>
<polygon points="2857.3,1272 2854.9,1273.5 2851.5,1275.4 2847.6,1277.8 2843.4,1280.6 2839.5,1283.7 2836.3,1287.1 2833.8,1290.8 2831.5,1294.9 2829.5,1299.3 2827.9,1304 2826.8,1308.7 2826.2,1313.6 2826.2,1317.9 2826.7,1322.3 2827.5,1326.9 2828.6,1331.4 2830,1335.9 2831.6,1340.1 2833.4,1344.2 2835.6,1347.9 2838.1,1351.5 2840.9,1354.9 2843.8,1358 2846.7,1361.1 2849.5,1364 2852.1,1366.9 2855.1,1370.2 2858.2,1373.3 2861.3,1376.3 2864.1,1379.2 2866.5,1382 2868.5,1384.8 2870.9,1389.1 2872.7,1393.4 2873.8,1397.7 2874.1,1401.9 2873.6,1406.3 2872.3,1410.8 2870.3,1415.3 2867.6,1419.7 2865.2,1422.6 2862,1425.6 2858.4,1428.6 2855,1431.4 2852,1433.8 2849.9,1435.5 2850.5,1436.2 2852.7,1434.7 2855.8,1432.5 2859.5,1430 2863.2,1427.1 2866.8,1424.1 2869.6,1421.2 2872.8,1416.7 2875.2,1412 2877,1407.1 2877.9,1402.1 2877.8,1397.1 2876.7,1392.2 2874.9,1387.3 2872.5,1382.4 2870.2,1379.1 2867.6,1376 2864.7,1372.9 2861.7,1369.9 2858.7,1366.8 2855.7,1363.5 2853.1,1360.6 2850.2,1357.7 2847.3,1354.7 2844.5,1351.7 2841.9,1348.6 2839.5,1345.4 2837.6,1342 2835.8,1338.4 2834.2,1334.4 2832.7,1330.2 2831.6,1325.9 2830.7,1321.7 2830.2,1317.6 2830,1313.7 2830.3,1309.3 2831.2,1304.8 2832.5,1300.4 2834.1,1296.2 2836.1,1292.2 2838.3,1288.6 2841.1,1285.3 2844.6,1282.1 2848.5,1279.2 2852.3,1276.6 2855.5,1274.4 2857.8,1272.8" fill="#FFFFFF"/>
<path d="M 2965.1,1687.7 Q 2964.2,1675.1 2983.1,1673 Q 3006.3,1670.9 3023.1,1687.7 Q 3029.4,1700.4 3023.1,1713 Q 3010.5,1721.4 2989.5,1715.1 Q 2966.3,1704.6 2965.1,1687.7 Z" fill="#16284A"/>
<path d="M 2969.3,1683.5 Q 2972.6,1673.8 2989.5,1675.1 Q 3012.6,1677.2 3023.1,1689.8 Q 3025.2,1700.4 3010.5,1704.6 Q 2985.3,1704.6 2969.3,1683.5 Z" fill="#2B5A8A"/>
<ellipse cx="2983.1" cy="1682.3" rx="10" ry="6.5" fill="#16284A"/>
<ellipse cx="3005" cy="1692.8" rx="11" ry="7.5" fill="#4A4947"/>
<ellipse cx="3005" cy="1691.9" rx="8" ry="5" fill="#6E6A68"/>
<polygon points="3045.4,1583.4 3260.9,1707.5 3260.9,1832.9 3045.4,1707.9" fill="#B9B7B6"/>
<path d="M3047.6,1588.8 L3047.6,1707.5 M3051.9,1591.3 L3051.9,1710 M3056.2,1593.8 L3056.2,1712.5 M3060.5,1596.2 L3060.5,1715 M3064.8,1598.7 L3064.8,1717.5 M3069.1,1601.2 L3069.1,1720 M3073.5,1603.7 L3073.5,1722.5 M3077.8,1606.2 L3077.8,1725 M3082.1,1608.7 L3082.1,1727.5 M3086.4,1611.1 L3086.4,1730 M3090.7,1613.6 L3090.7,1732.5 M3095,1616.1 L3095,1735 M3099.3,1618.6 L3099.3,1737.5 M3103.6,1621.1 L3103.6,1740 M3107.9,1623.6 L3107.9,1742.5 M3112.2,1626 L3112.2,1745 M3116.5,1628.5 L3116.5,1747.5 M3120.9,1631 L3120.9,1750 M3125.2,1633.5 L3125.2,1752.5 M3129.5,1636 L3129.5,1755 M3133.8,1638.5 L3133.8,1757.5 M3138.1,1640.9 L3138.1,1760 M3142.4,1643.4 L3142.4,1762.5 M3146.7,1645.9 L3146.7,1765 M3151,1648.4 L3151,1767.5 M3155.3,1650.9 L3155.3,1770 M3159.6,1653.4 L3159.6,1772.5 M3164,1655.8 L3164,1775 M3168.3,1658.3 L3168.3,1777.5 M3172.6,1660.8 L3172.6,1780 M3176.9,1663.3 L3176.9,1782.5 M3181.2,1665.8 L3181.2,1785 M3185.5,1668.3 L3185.5,1787.5 M3189.8,1670.7 L3189.8,1790 M3194.1,1673.2 L3194.1,1792.5 M3198.4,1675.7 L3198.4,1795 M3202.7,1678.2 L3202.7,1797.5 M3207.1,1680.7 L3207.1,1800 M3211.4,1683.2 L3211.4,1802.5 M3215.7,1685.6 L3215.7,1805 M3220,1688.1 L3220,1807.5 M3224.3,1690.6 L3224.3,1810 M3228.6,1693.1 L3228.6,1812.5 M3232.9,1695.6 L3232.9,1815 M3237.2,1698.1 L3237.2,1817.5 M3241.5,1700.5 L3241.5,1820 M3245.8,1703 L3245.8,1822.5 M3250.2,1705.5 L3250.2,1825 M3254.5,1708 L3254.5,1827.5 M3258.8,1710.5 L3258.8,1830" stroke="#6E6A68" stroke-width="1.7" fill="none"/>
<polygon points="3045.4,1583.4 3072.8,1566.5 3289.1,1690.7 3260.9,1707.5" fill="#CDCCCA"/>
<polygon points="3260.9,1707.5 3289.1,1690.7 3289.1,1816.1 3260.9,1832.9" fill="#6E6A68"/>
<polygon points="3108,1567.4 3106.7,1564.6 3104.9,1561.2 3102.8,1557.2 3100.4,1552.6 3097.8,1547.7 3095.3,1542.4 3092.8,1536.7 3090.4,1530.9 3088.4,1524.9 3087,1520.6 3085.5,1516 3083.9,1511.2 3082.4,1506.2 3080.9,1501.1 3079.4,1495.9 3078,1490.5 3076.7,1485.1 3075.6,1479.7 3074.6,1474.2 3073.9,1468.8 3073.4,1463.5 3073.1,1458.2 3073,1453.3 3072.8,1448.3 3072.8,1443.3 3072.9,1438.2 3073.1,1433.1 3073.4,1428 3073.9,1423 3074.6,1417.9 3075.5,1412.8 3076.6,1407.7 3078.1,1402.7 3079.7,1397.7 3081.7,1392.8 3084.1,1387.9 3086.2,1384 3088.7,1379.9 3091.7,1375.7 3095,1371.3 3098.5,1366.9 3102.3,1362.5 3106.3,1358 3110.3,1353.6 3114.4,1349.3 3118.5,1345.1 3122.5,1341 3126.3,1337.1 3130,1333.4 3133.4,1329.9 3136.6,1326.7 3139.4,1323.8 3141.7,1321.3 3143.6,1319.1 3142.5,1318.1 3140.5,1320.1 3138.1,1322.5 3135.2,1325.3 3131.9,1328.3 3128.4,1331.7 3124.6,1335.3 3120.6,1339.1 3116.4,1343 3112.2,1347.2 3108,1351.4 3103.8,1355.7 3099.7,1360.1 3095.7,1364.5 3092,1368.9 3088.5,1373.2 3085.3,1377.5 3082.4,1381.7 3080,1385.8 3077.5,1390.9 3075.3,1396 3073.5,1401.3 3071.9,1406.5 3070.6,1411.8 3069.6,1417 3068.8,1422.3 3068.2,1427.6 3067.8,1432.8 3067.5,1438 3067.3,1443.2 3067.3,1448.3 3067.3,1453.4 3067.4,1458.5 3067.8,1464 3068.4,1469.5 3069.3,1475.1 3070.3,1480.7 3071.6,1486.3 3073,1491.8 3074.5,1497.2 3076.1,1502.5 3077.7,1507.7 3079.4,1512.7 3081,1517.5 3082.6,1522.1 3084.1,1526.5 3086.5,1532.5 3089.2,1538.3 3092.1,1543.9 3095,1549.2 3097.9,1554 3100.6,1558.4 3103,1562.3 3105.1,1565.5 3106.6,1568.1" fill="#A51120"/>
<polygon points="3119.7,1582.1 3118.1,1579.2 3115.7,1575.4 3112.9,1571 3109.9,1565.9 3107.3,1560.3 3105.1,1554.4 3103.8,1550.2 3102.5,1545.6 3101.3,1540.7 3100.1,1535.6 3099.1,1530.3 3098.2,1524.9 3097.5,1519.5 3096.9,1514 3096.5,1508.7 3096.1,1503.8 3095.7,1498.9 3095.3,1494 3095.1,1489.1 3095,1484.2 3095.1,1479.2 3095.5,1474.2 3096.2,1469.2 3097.3,1464.1 3098.8,1459 3100.4,1454.6 3102.7,1449.7 3105.4,1444.6 3108.4,1439.3 3111.6,1433.9 3115,1428.6 3118.3,1423.5 3121.6,1418.7 3124.6,1414.2 3127.2,1410.2 3129.4,1406.8 3131.1,1404 3129.9,1403.2 3128,1405.8 3125.7,1409.1 3122.8,1413 3119.6,1417.3 3116.2,1422 3112.6,1427.1 3109.1,1432.3 3105.6,1437.5 3102.3,1442.8 3099.3,1448 3096.8,1453 3094.8,1457.7 3093.1,1463 3091.9,1468.4 3091,1473.7 3090.5,1478.9 3090.2,1484.1 3090.2,1489.2 3090.4,1494.3 3090.6,1499.3 3090.9,1504.2 3091.2,1509.1 3091.7,1514.5 3092.4,1520.1 3093.3,1525.7 3094.4,1531.2 3095.6,1536.6 3096.8,1541.8 3098.2,1546.8 3099.6,1551.5 3101.1,1555.9 3103.9,1561.9 3107.1,1567.5 3110.5,1572.5 3113.7,1576.8 3116.5,1580.3 3118.5,1582.9" fill="#A51120"/>
<polygon points="3125.3,1612.4 3128.4,1610.7 3132.8,1608.2 3137.8,1605 3142.7,1601 3146.7,1596.1 3148.9,1591.9 3151,1587.5 3152.9,1582.5 3154.4,1577.2 3155.5,1571.4 3155.8,1565.3 3155.3,1559 3154.3,1554.6 3152.8,1550.1 3150.8,1545.5 3148.6,1540.9 3146.2,1536.1 3143.7,1531.4 3141.2,1526.6 3138.8,1521.8 3136.6,1517.1 3134.7,1512.5 3133.2,1508 3131.8,1503 3130.4,1498 3129.2,1493 3128.1,1487.9 3127.2,1482.9 3126.5,1477.9 3125.9,1473 3125.7,1468.1 3125.6,1463.3 3125.9,1458.6 3126.4,1453.3 3127.1,1448 3128.1,1442.7 3129.4,1437.5 3131,1432.3 3132.9,1427.3 3135.1,1422.4 3137.5,1417.6 3140.3,1413.1 3143.3,1409 3147,1404.8 3151.3,1400.7 3155.8,1396.6 3160.6,1392.6 3165.2,1388.9 3169.6,1385.4 3173.5,1382.3 3176.8,1379.7 3179.2,1377.6 3178.5,1376.7 3175.9,1378.6 3172.5,1381 3168.5,1383.9 3163.9,1387.2 3159.1,1390.8 3154.2,1394.6 3149.4,1398.6 3144.9,1402.7 3140.8,1406.9 3137.4,1411.1 3134.4,1415.7 3131.6,1420.6 3129.2,1425.7 3127,1430.9 3125.2,1436.2 3123.7,1441.7 3122.4,1447.1 3121.4,1452.6 3120.7,1458.1 3120.4,1463.2 3120.4,1468.3 3120.7,1473.4 3121.1,1478.6 3121.8,1483.8 3122.7,1489 3123.8,1494.2 3125,1499.4 3126.3,1504.5 3127.7,1509.7 3129.4,1514.5 3131.4,1519.4 3133.8,1524.3 3136.3,1529.1 3138.8,1533.9 3141.4,1538.7 3143.8,1543.3 3146,1547.7 3147.9,1552 3149.3,1556.1 3150.2,1559.8 3150.9,1565.5 3150.8,1571 3150.1,1576.3 3148.9,1581.3 3147.3,1586 3145.5,1590.4 3143.7,1594.2 3140.5,1599 3136.3,1603 3131.6,1606.5 3127.5,1609.3 3124.7,1611.5" fill="#A51120"/>
<polygon points="3130.7,1632.2 3133.8,1630.7 3138.1,1628.6 3143.1,1626.2 3148.6,1623.3 3154,1620.1 3159,1616.7 3163.2,1613.1 3167.1,1608.5 3170.7,1603.5 3173.8,1598.2 3176.3,1592.5 3178.2,1586.6 3179.1,1580.6 3179.2,1575.1 3178.6,1569.3 3177.4,1563.4 3175.8,1557.4 3173.7,1551.6 3171.3,1546.1 3168.4,1541.1 3164.9,1536.5 3160.7,1532.5 3156.1,1528.8 3151.4,1525.4 3146.7,1522.1 3142.3,1518.9 3138.4,1515.5 3133.8,1511.4 3129,1507.2 3124.5,1503 3120.5,1498.9 3117.3,1495 3115.2,1491.6 3114.2,1486 3115.3,1480.2 3117.2,1475 3118.3,1471.2 3117.3,1470.8 3115.7,1474.4 3113.2,1479.6 3111.5,1485.9 3112.1,1492.5 3114.4,1497 3117.7,1501.4 3121.7,1505.8 3126.1,1510.2 3130.7,1514.7 3135.2,1519 3139.3,1522.7 3143.8,1526.1 3148.5,1529.5 3153.1,1532.8 3157.3,1536.3 3161,1540 3164,1544 3166.6,1548.5 3169,1553.6 3171,1559 3172.6,1564.5 3173.7,1570 3174.3,1575.4 3174.4,1580.2 3173.7,1585.7 3172.3,1591.1 3170.2,1596.4 3167.5,1601.6 3164.3,1606.4 3160.8,1610.9 3157.2,1614.5 3152.6,1618 3147.4,1621.3 3142.2,1624.4 3137.3,1627.1 3133.1,1629.5 3130.2,1631.3" fill="#A51120"/>
<path d="M3191.7,1412.8 A181,181 0 0 1 3348.8,1478.9" stroke="#A51120" stroke-width="17.7" fill="none"/>
<path d="M3198.8,1437.6 A155.7,155.7 0 0 1 3328.3,1493.8" stroke="#A51120" stroke-width="16" fill="none"/>
<path d="M3205.2,1462.6 A130.5,130.5 0 0 1 3307.8,1508.7" stroke="#A51120" stroke-width="14.3" fill="none"/>
<path d="M3212,1487.9 A105.2,105.2 0 0 1 3288.9,1525.3" stroke="#A51120" stroke-width="12.6" fill="none"/>
<path d="M3219.7,1513.9 A80,80 0 0 1 3270.7,1543" stroke="#A51120" stroke-width="10.1" fill="none"/>
<path d="M3143.3,1647.6 A183.1,183.1 0 0 0 3301,1707.5" stroke="#A51120" stroke-width="17.7" fill="none"/>
<path d="M3159.7,1628 A157.8,157.8 0 0 0 3295.6,1682.7" stroke="#A51120" stroke-width="16" fill="none"/>
<path d="M3176.3,1608.5 A132.6,132.6 0 0 0 3289,1658" stroke="#A51120" stroke-width="14.3" fill="none"/>
<path d="M3193,1588.7 A107.3,107.3 0 0 0 3278.4,1633" stroke="#A51120" stroke-width="12.6" fill="none"/>
<path d="M3210.6,1569.8 A82.1,82.1 0 0 0 3267.9,1606.9" stroke="#A51120" stroke-width="10.1" fill="none"/>
<polygon points="3231.5,1529.9 3259.7,1545.9 3259.7,1590.9 3231.5,1575.4" fill="#FFFFFF"/>
<circle cx="3244.9" cy="1551.4" r="4" fill="#A51120"/>
<polygon points="3232.7,1561.5 3258,1576.2 3258,1586.7 3232.7,1572.8" fill="#E9E9E9"/>
<path d="M3233.1,1561.7 L3232.7,1562.5 M3235.3,1562.9 L3232.7,1567.7 M3237.4,1564.2 L3232.7,1572.8 M3239.5,1565.4 L3234.8,1574 M3241.6,1566.6 L3236.9,1575.1 M3243.7,1567.8 L3239,1576.3 M3245.8,1569.1 L3241.1,1577.5 M3247.9,1570.3 L3243.2,1578.6 M3250,1571.5 L3245.4,1579.8 M3252.1,1572.8 L3247.5,1580.9 M3254.2,1574 L3249.6,1582.1 M3256.3,1575.2 L3251.7,1583.2 M3258,1577.2 L3253.8,1584.4 M3258,1581.9 L3255.9,1585.6 M3258,1586.7 L3258,1586.7" stroke="#3F3D3E" stroke-width="0.9" fill="none"/>
<path d="M3228.9,1574.7 A21.9,21.9 0 0 1 3230.3,1544.4" stroke="#161513" stroke-width="4" fill="none"/>
<path d="M3261.3,1545.2 A21.9,21.9 0 0 1 3259.6,1576.8" stroke="#161513" stroke-width="4" fill="none"/>
<path d="M3220.7,1581.9 A32.8,32.8 0 0 1 3222.7,1536.4" stroke="#161513" stroke-width="4" fill="none"/>
<path d="M3269.2,1537.6 A32.8,32.8 0 0 1 3266.7,1585.1" stroke="#161513" stroke-width="4" fill="none"/>
<path d="M3212.5,1589.1 A43.8,43.8 0 0 1 3215.2,1528.5" stroke="#161513" stroke-width="4" fill="none"/>
<path d="M3277.2,1530.1 A43.8,43.8 0 0 1 3273.8,1593.4" stroke="#161513" stroke-width="4" fill="none"/>
<polygon points="2462.5,1640.9 2477.9,1632.3 2553.4,1668.6 2553.4,1677.3 2543.2,1684 2531.8,1681" fill="#467822"/>
<polygon points="2543.2,1684 2553.4,1677.3 2554,1736.4 2545.7,1742" fill="#273614"/>
<polygon points="2543.2,1685.6 2545.7,1684 2545.7,1741 2543.2,1739.5" fill="#1F4E8C"/>
<polygon points="2476.4,1551.6 2545.7,1591.6 2545.7,1671.7 2536.4,1667.1 2536.4,1624 2494.2,1600.2 2494.2,1633.2 2485.6,1638.4 2476.4,1633.2" fill="#35561E"/>
<polygon points="2476.4,1551.6 2485,1546.9 2554,1586.1 2545.7,1591.6" fill="#467822"/>
<polygon points="2545.7,1591.6 2554,1586.1 2554,1668.6 2545.7,1672.3" fill="#273614"/>
<polygon points="2485.6,1596.2 2494.2,1600.2 2494.2,1633.2 2485.6,1638.4" fill="#273614"/>
<polygon points="2525.7,1697.9 2538,1702.5 2538,1796.5 2525.7,1788.8" fill="#403E3F"/>
<polygon points="2538,1702.5 2543.2,1694.8 2543.2,1793.4 2538,1796.5" fill="#2E2A2B"/>
<polygon points="2337.1,1798 2349.4,1805.7 2349.4,1905.8 2337.1,1898.1" fill="#403E3F"/>
<polygon points="2349.4,1805.7 2355.3,1802.6 2355.3,1902.8 2349.4,1905.8" fill="#2E2A2B"/>
<polygon points="2330.9,1790.3 2349.4,1801.1 2350,1807.3 2330.9,1796.5" fill="#403E3F"/>
<polygon points="2349.4,1801.1 2543.2,1688.7 2543.2,1695.4 2350,1807.9" fill="#2E2A2B"/>
<polygon points="2330.9,1696.4 2444,1631 2543.2,1688.7 2349.4,1801.1 2330.9,1790.3" fill="#666261"/>
<polygon points="2485.6,1825.7 2494.2,1830.4 2494.2,1887.4 2485.6,1882.1" fill="#273614"/>
<polygon points="2494.2,1830.4 2503.5,1825.1 2503.5,1881.8 2494.2,1887.4" fill="#35561E"/>
<polygon points="2370.7,1822.7 2380.2,1828.2 2380.2,1889.8 2370.7,1884.3" fill="#273614"/>
<polygon points="2380.2,1828.2 2389.2,1833.5 2389.2,1884.3 2380.2,1889.8" fill="#35561E"/>
<polygon points="2371.6,1815.9 2431.7,1782 2494.2,1818 2434.8,1852.9" fill="#467822"/>
<polygon points="2371.6,1815.9 2434.8,1852.9 2434.8,1861.2 2371.6,1824.2" fill="#273614"/>
<polygon points="2434.8,1852.9 2494.2,1818 2494.2,1827.3 2434.8,1861.2" fill="#35561E"/>
<polygon points="2427.1,1767.2 2434.8,1771.8 2434.8,1921.9 2426.5,1916.6" fill="#273614"/>
<polygon points="2434.8,1771.8 2503.5,1731.8 2503.5,1825.7 2494.2,1830.4 2494.2,1775.5 2444.6,1804.2 2444.6,1915.1 2434.8,1921.9" fill="#35561E"/>
<polygon points="2427.1,1767.2 2494.8,1727.2 2503.5,1731.8 2434.8,1771.8" fill="#467822"/>
<polygon points="2485.6,1780.2 2494.2,1775.5 2494.2,1816.5 2485.6,1811.9" fill="#273614"/>
<polygon points="2717.9,2012.1 2730,2017.5 2730,2022.4 2717.9,2016.1" fill="#231F20"/>
<polygon points="2798.2,2056.7 2813.1,2054.8 2813.1,2064.8 2804.4,2067.5 2798.2,2063.5" fill="#231F20"/>
<polygon points="3046.5,1914.7 3061.3,1909.3 3061.3,1920.7 3054.6,1924.7 3046.5,1919.6" fill="#231F20"/>
<polygon points="2982.9,1786.3 3077.6,1840.9 3060,1851.7 2982.9,1807.9" fill="#F3F3F5"/>
<polygon points="2982.9,1807.9 3060,1851.7 3060,1876.9 3034.3,1874.7 2974.8,1839 2982.9,1820.1" fill="#777372"/>
<polygon points="3060,1851.7 3077.6,1840.9 3078.1,1897.1 3060.8,1907.1" fill="#F3F3F5"/>
<polygon points="2732.2,1882.3 2750.9,1893.1 2750.9,1948.5 2732.2,1937.7" fill="#777372"/>
<polygon points="2732.2,1882.3 2849.8,1814.1 2867.1,1824.9 2750.9,1893.1" fill="#F3F3F5"/>
<polygon points="2750.9,1893.1 2865.8,1826 2866.6,1900.7 2767.9,1958 2750.9,1948.5" fill="#E6E6E6"/>
<polygon points="2849.8,1814.1 2964.5,1747 2982.9,1759.2 2868.5,1824.9" fill="#F3F3F5"/>
<polygon points="2868.5,1824.9 2982.9,1759.2 2982.9,1820.1 2974.8,1839 2869.3,1899" fill="#E6E6E6"/>
<polygon points="2865.3,1826 2869,1824.9 2869.9,1899 2866.1,1900.7" fill="#8B8A88"/>
<polygon points="2700.3,1943.1 2801.7,2001.3 2801.7,2055.4 2700.3,1998.6" fill="#777372"/>
<polygon points="2801.7,2001.3 2820.6,1990.4 2820.6,2044.5 2801.7,2055.4" fill="#E6E6E6"/>
<polygon points="2700.3,1943.1 2720.6,1930.9 2820.6,1990.4 2801.7,2001.3" fill="#E6E6E6"/>
<polygon points="2720.6,1930.9 2732.2,1924.2 2732.2,1937.7 2750.9,1948.5 2744.9,1945" fill="#777372"/>
<polygon points="2700.3,1943.1 2707,1939.1 2744.9,1945 2708.4,1947.2" fill="#8B8A88"/>
<polygon points="2767.9,1958 2866.6,1900.7 2974.8,1839 3034.3,1874.7 3060,1876.9 3060.8,1882.3 2828.2,2013.4 2820.6,1990.4" fill="#F3F3F5"/>
<polygon points="2828.2,2013.4 3060.8,1882.3 3061.3,1906.6 2828.7,2037" fill="#E6E6E6"/>
<polygon points="2820.6,2013.4 2828.2,2013.4 2828.7,2037 3061.3,1906.6 3061.9,1911.5 2820.6,2049.4" fill="#F3F3F5"/>
<polyline points="2822,2016.1 2823.3,2036.4 2828.2,2037 3061.3,1906.6" fill="none" stroke="#777372" stroke-width="2.2"/>
<polygon points="2820.6,2010.7 2828.2,2013.4 2828.7,2037 2821.2,2035.1" fill="#8B8A88"/>
<polyline points="2866.6,1900.7 2944.5,1945 2945.6,1968.3" fill="none" stroke="#777372" stroke-width="2.6"/>
<polygon points="3201.9,2005.2 3213.5,2005.2 3213.5,2048.7 3201.9,2041.6" fill="#403E3F"/>
<polygon points="3213.5,2001 3225.5,1994.7 3225.5,2042 3213.5,2048.7" fill="#2E2A2B"/>
<polygon points="2944.2,2047.3 2956.8,2054.6 2956.8,2103 2944.2,2095.7" fill="#403E3F"/>
<polygon points="2956.8,2055.7 2968,2062 2968,2096.1 2956.8,2103" fill="#2E2A2B"/>
<polygon points="3026.2,2093.6 3037.8,2099.9 3037.8,2150.4 3026.2,2143.4" fill="#403E3F"/>
<polygon points="3037.8,2099.9 3049.4,2093.6 3049.4,2143.4 3037.8,2150.4" fill="#2E2A2B"/>
<polygon points="2944.2,2037.8 3037.8,2091.9 3037.8,2112.1 2944.2,2057.8" fill="#403E3F"/>
<polygon points="3037.8,2091.9 3225.5,1984.2 3225.5,2003.5 3037.8,2112.1" fill="#2E2A2B"/>
<polygon points="2944.2,2037.8 3132.1,1929.9 3225.5,1984.2 3037.8,2091.9" fill="#666261"/>
<polygon points="2959,2269 3011,2297.5 3011,2389 2959,2359" fill="#4A4947"/>
<polygon points="3011,2297.5 3062.5,2269 3062.5,2359 3011,2389" fill="#A6A6A6"/>
<polygon points="2959,2269 3011,2240 3062.5,2269 3011,2297.5" fill="#E0E0E0"/>
<polygon points="2984,2270 3011,2255 3039,2270 3011,2285" fill="#403E3F"/>
<path d="M 3009,2164 Q 2980,2200 2989,2240 Q 2997.5,2262.5 3009,2271 Z" fill="#53A551"/>
<path d="M 3009,2164 Q 3040,2200 3031,2240 Q 3022.5,2262.5 3009,2271 Z" fill="#467822"/>
<polygon points="1795,1300 2318,1608 2320.5,2036.5 1795,1732" fill="#636B69"/>
<polygon points="2317.5,1610 2330,1603 2333,2028 2320.5,2036.5" fill="#6D6866"/>
<polygon points="1795,1291 1808,1294 2330,1603 2317.5,1610 1795,1302" fill="#CDCCCA"/>
<polygon points="2118.9,1570.2 2131.5,1562.3 2261.4,1637.2 2248.7,1644.6" fill="#CDCCCA"/>
<polygon points="2248.7,1644.6 2261.4,1637.2 2260.8,1863.8 2247.7,1871.7" fill="#6E6A68"/>
<polygon points="2118.9,1570.2 2248.7,1644.6 2247.7,1871.7 2118.4,1796.8" fill="#AEABA8"/>
<polygon points="2136.8,1599.9 2149.1,1607 2231.1,1653.5 2231.1,1736.6 2136.8,1683.2" fill="#CDCCCA"/>
<polygon points="2136.8,1599.9 2149.1,1607 2149.1,1675.9 2136.8,1683.2" fill="#6E6A68"/>
<polygon points="2149.1,1607 2231.1,1653.5 2231.1,1722.1 2149.1,1675.9" fill="#FFFFFF"/>
<polygon points="2136.8,1703.7 2149.1,1710.8 2231.1,1757.3 2231.1,1840.4 2136.8,1787" fill="#CDCCCA"/>
<polygon points="2136.8,1703.7 2149.1,1710.8 2149.1,1779.7 2136.8,1787" fill="#6E6A68"/>
<polygon points="2149.1,1710.8 2231.1,1757.3 2231.1,1825.9 2149.1,1779.7" fill="#FFFFFF"/>
<polygon points="2320,2172.5 2437.5,2105 2787.5,2305 2665,2372.5" fill="#666261"/>
<polygon points="2665,2372.5 2787.5,2305 2787.5,2357.5 2665,2426" fill="#403E3F"/>
<polygon points="2320,2172.5 2665,2372.5 2665,2426 2545,2356 2537.5,2335 2520,2317.5 2490,2300 2400,2240 2380,2237.5 2367.5,2255 2320,2227.5" fill="#2E2A2B"/>
<path d="M 2088.3,1951.8 Q 2113.1,1931.6 2144.7,1929.3 Q 2185.2,1938.3 2212.3,1956.3 Q 2239.3,1967.6 2250.6,1974.4 Q 2275.4,1996.9 2286.6,2012.7 Q 2306.9,2044.2 2320.4,2064.5 Q 2327.2,2084.8 2338.5,2098.3 L 2361,2127.6 Q 2365.5,2138.9 2358.8,2143.4 Q 2338.5,2138.9 2320.4,2123.1 Q 2302.4,2111.8 2288.9,2111.8 Q 2266.4,2098.3 2248.3,2087.1 Q 2221.3,2073.5 2207.8,2057.8 Q 2185.2,2048.7 2171.7,2039.7 Q 2153.7,2021.7 2146.9,2012.7 Q 2131.1,2003.7 2117.6,2001.4 Q 2104.1,1990.1 2099.6,1983.4 Q 2077,1985.6 2063.5,1974.4 Q 2056.8,1963.1 2070.3,1960.8 Q 2081.6,1967.6 2092.8,1963.1 Z" fill="#ECECEC"/>
<path d="M 2144.7,1933.8 Q 2180.7,1967.6 2210,1992.4 Q 2198.7,1967.6 2162.7,1942.8 Z" fill="#FFFFFF"/>
<path d="M 2095.1,1967.6 Q 2117.6,1974.4 2137.9,1987.9 Q 2167.2,2017.2 2185.2,2028.5 Q 2201,2035.2 2214.5,2030.7 Q 2203.2,2021.7 2187.5,2019.4 Q 2162.7,1999.2 2140.1,1981.1 Q 2117.6,1967.6 2095.1,1967.6 Z" fill="#FFFFFF"/>
<path d="M 2252.8,2047.8 Q 2284.4,2063.2 2302.4,2065.4 L 2320.4,2067.7 Q 2302.4,2053.2 2284.4,2054.6 Q 2266.4,2043.3 2252.8,2047.8 Z" fill="#FFFFFF"/>
<path d="M 2207.8,2057.8 Q 2239.3,2080.3 2288.9,2118.6 Q 2261.8,2092.9 2243.8,2083.9 Q 2225.8,2070.4 2207.8,2057.8 Z" fill="#FFFFFF"/>
<path d="M 2380,2237.5 Q 2400,2240 2430,2265 Q 2465,2285 2495,2300 Q 2525,2320 2537.5,2340 L 2545,2357.5 L 2400,2280 Z" fill="#FFFFFF"/>
<path d="M 2310,2290 Q 2325,2270 2350,2267.5 Q 2370,2280 2380,2295 Q 2400,2320 2430,2335 Q 2450,2340 2450,2347.5 Q 2425,2350 2400,2335 Q 2375,2315 2350,2295 Q 2335,2300 2325,2295 Q 2350,2325 2400,2350 Q 2475,2395 2550,2440 Q 2590,2462.5 2610,2466.5 Q 2575,2470 2525,2440 Q 2450,2395 2375,2350 Q 2330,2320 2310,2290 Z" fill="#E4E3E4"/>
<path d="M 2382.5,2245 Q 2410,2270 2430,2290 Q 2445,2305 2450,2307.5 Q 2430,2280 2400,2250 Z" fill="#ECECEC"/>
<ellipse cx="2497.5" cy="2302.5" rx="12" ry="6" fill="#DCDAE4" transform="rotate(30 2497.5 2302.5)"/>
</g>
<g id="people">
<path d="M 1983.9,1786.1 L 1986.3,1938.3" stroke="#231F20" stroke-width="8.6" stroke-linecap="round" fill="none"/>
<path d="M 1901.3,1761.3 L 1929.4,1756.4 M 1907.9,1761.3 L 1908.5,1795.4 M 1938.3,1776.9 L 1957.5,1772.3 M 1950.2,1775.6 L 1951.5,1808.6" stroke="#231F20" stroke-width="9.5" stroke-linecap="round" fill="none"/>
<path d="M 1888,1797.7 L 1894.6,1793.4 L 1970.7,1808.6 L 1970.7,1855.6 Q 1969.1,1885.4 1959.1,1903.5 Q 1949.2,1915.1 1936,1911.2 Q 1911.2,1900.2 1901.3,1888.7 Q 1893,1875.4 1891.3,1852.3 Z" fill="#868280"/>
<polygon points="1888,1797.7 1894.6,1793.4 1970.7,1808.6 1965.7,1814.3" fill="#9B9896"/>
<polygon points="1894.6,1799.4 1931,1809.3 1931,1839.1 1894.6,1829.1" fill="#D9D9D9"/>
<polygon points="1906.2,1840.7 1929.4,1847.3 1929.4,1865.5 1906.2,1857.2" fill="#AEABA8"/>
<polyline points="1888.7,1815.2 1879.8,1820.9 1950.9,1856.3 1971.4,1846.3" fill="none" stroke="#D0D0D0" stroke-width="1.3"/>
<circle cx="1971.4" cy="1780.2" r="17" fill="#595555"/>
<circle cx="1971.4" cy="1780.2" r="17" fill="none" stroke="#3A3838" stroke-width="1.5"/>
<ellipse cx="1965.7" cy="1780.2" rx="3" ry="4.5" fill="#8B8A88"/>
<ellipse cx="1981.3" cy="1834.1" rx="8.5" ry="13" fill="#595555"/>
<ellipse cx="1978.6" cy="1834.1" rx="3" ry="5" fill="#A6A6A6"/>
<path d="M 1745.8,2039.1 L 1778.9,2037.5 Q 1785.5,2060.6 1787.2,2080.5 Q 1787.2,2093.7 1785.5,2097 L 1759.1,2111.9 L 1747.5,2087.1 L 1757.4,2078.8 Z" fill="#8B8A88"/>
<path d="M 1694.6,2103.6 L 1745.8,2085.4 Q 1755.7,2093.7 1759.1,2111.9 L 1702.8,2137.4 Q 1689.6,2149.9 1679.7,2158.2 Q 1666.5,2161.5 1659.8,2159.8 Q 1655.9,2158.2 1657.2,2153.2 Q 1669.8,2140 1676.4,2130.1 Q 1679.7,2113.5 1683,2106.9 Z" fill="#2E2A2B"/>
<path d="M 1683,2106.3 Q 1692.9,2103 1694.6,2116.9 Q 1692.9,2130.1 1689.6,2133.4 Q 1673.1,2149.9 1659.8,2159.8 Q 1655.9,2158.2 1657.2,2153.2 Q 1669.8,2140 1676.4,2130.1 Q 1679.7,2113.5 1683,2106.3 Z" fill="#161513"/>
<path d="M 1792.8,1991.2 L 1845,1981.3 Q 1861.6,1979.6 1866.5,1994.5 L 1866.5,2020.9 L 1838.4,2015 L 1792.8,2030.9 Z" fill="#8B8A88"/>
<path d="M 1838.4,2116.2 Q 1868.2,2110.2 1894.6,2091.1 L 1895.3,2093.7 Q 1871.5,2111.9 1855,2116.9 Q 1845,2118.5 1838.4,2116.2 Z" fill="#6B2A14"/>
<path d="M 1835.1,2024.3 L 1866.5,2020.3 L 1861.6,2083.8 Q 1878.1,2082.1 1891.3,2082.1 Q 1896.3,2083.8 1895.3,2089.7 Q 1878.1,2103.6 1855,2112.9 Q 1841.7,2116.2 1836.8,2114.2 Q 1832.8,2103.6 1833.5,2093.7 Z" fill="#2E2A2B"/>
<path d="M 1769,1870.5 L 1785.5,1878.1 L 1798.7,1883.7 Q 1803.7,1895.3 1802,1905.2 Q 1798.7,1931.7 1795.4,1951.5 Q 1792.1,1971.3 1792.8,1984.6 L 1792.8,2034.2 Q 1769,2039.1 1745.8,2039.1 Q 1729.3,2037.5 1724.3,2032.5 Q 1720,2027.6 1721,2022.6 Q 1722.7,1984.6 1726.6,1951.5 Q 1730.9,1925 1739.2,1905.2 Q 1752.4,1882 1769,1870.5 Z" fill="#467822"/>
<path d="M 1770.6,1869.5 L 1785.5,1878.1 L 1798.7,1883.7 L 1795.4,1892 L 1782.2,1883.7 Z" fill="#35561E"/>
<path d="M 1782.2,1905.2 Q 1790.5,1898.6 1800.4,1901.2 Q 1803.7,1915.1 1803.7,1931.7 L 1851.7,1910.2 L 1859.9,1936.6 L 1807,1974.6 Q 1795.4,1979.6 1788.8,1974.6 Q 1780.6,1951.5 1778.9,1935 Q 1778.2,1915.1 1782.2,1905.2 Z" fill="#35561E"/>
<path d="M 1803.7,1931.7 L 1846.7,1908.5 L 1853.3,1922.4 L 1807,1951.5 Q 1802,1948.2 1803.7,1931.7 Z" fill="#273614"/>
<path d="M 1818.6,1835.7 L 1829.2,1830.8 Q 1830.2,1845.7 1828.5,1855.6 Q 1825.2,1868.8 1816.9,1872.1 Q 1808.7,1872.1 1807,1865.5 L 1808.7,1852.3 Z" fill="#6E6A68"/>
<path d="M1772.3,1809.3C1775.3,1804.2 1779.4,1800.7 1785.5,1798.4C1791.6,1796.1 1801.2,1794.6 1808.7,1795.4C1816.1,1796.2 1825.1,1799.4 1830.2,1803.3C1835.2,1807.3 1839.3,1814.6 1839.1,1819.2C1838.9,1823.8 1832.5,1827.9 1829.2,1830.8C1825.9,1833.7 1822.6,1832.8 1819.2,1836.4C1815.9,1840 1811.3,1846.3 1809.3,1852.3C1807.3,1858.2 1809.1,1867.1 1807.3,1872.1C1805.6,1877.2 1802.4,1881.6 1798.7,1882.7C1795.1,1883.8 1789.8,1880.9 1785.5,1878.7C1781.2,1876.5 1776.3,1873.9 1772.9,1869.5C1769.6,1865.1 1766.6,1859 1765.7,1852.3C1764.7,1845.6 1766.2,1836.3 1767.3,1829.1C1768.4,1822 1769.3,1814.4 1772.3,1809.3Z" fill="#BDBCBC"/>
<circle cx="1772.3" cy="1809.3" r="4" fill="#BDBCBC"/>
<circle cx="1785.5" cy="1798.4" r="4" fill="#BDBCBC"/>
<circle cx="1808.7" cy="1795.4" r="4" fill="#BDBCBC"/>
<circle cx="1830.2" cy="1803.3" r="4" fill="#BDBCBC"/>
<circle cx="1839.1" cy="1819.2" r="4" fill="#BDBCBC"/>
<circle cx="1829.2" cy="1830.8" r="4" fill="#BDBCBC"/>
<circle cx="1819.2" cy="1836.4" r="4" fill="#BDBCBC"/>
<circle cx="1809.3" cy="1852.3" r="4" fill="#BDBCBC"/>
<circle cx="1807.3" cy="1872.1" r="4" fill="#BDBCBC"/>
<circle cx="1798.7" cy="1882.7" r="4" fill="#BDBCBC"/>
<circle cx="1785.5" cy="1878.7" r="4" fill="#BDBCBC"/>
<circle cx="1772.9" cy="1869.5" r="4" fill="#BDBCBC"/>
<circle cx="1765.7" cy="1852.3" r="4" fill="#BDBCBC"/>
<circle cx="1767.3" cy="1829.1" r="4" fill="#BDBCBC"/>
<path d="M 1846.7,1908.5 Q 1858.3,1896.9 1868.2,1892 Q 1881.4,1901.9 1885.4,1913.5 Q 1886.4,1926.7 1879.8,1933.3 Q 1871.5,1940.9 1861.6,1939.9 L 1855,1935 Z" fill="#8B8A88"/>
<path d="M 1875.5,1887 L 1847.7,1955.5" stroke="#4A4947" stroke-width="3" fill="none"/>
<path d="M 1869.8,1877.1 L 1873.2,1875.4 L 1874.8,1881.4 L 1878.8,1881.4 L 1880.8,1875.4 L 1884.7,1877.7 Q 1885.4,1885.4 1878.1,1889.3 L 1873.5,1889.3 Q 1868.9,1885.4 1869.8,1877.1 Z" fill="#4A4947"/>
<circle cx="1845" cy="1960.4" r="4.2" fill="none" stroke="#8B8A88" stroke-width="2"/>
<path d="M 1851.7,1918.4 Q 1864.9,1915.1 1878.1,1915.1 Q 1883.1,1921.7 1879.8,1931.7 Q 1871.5,1938.3 1861.6,1938.9 Z" fill="#A3A2A0"/>
<path d="M1952.9,2211C1954.2,2208.4 1958.7,2211 1960,2214.2C1961.3,2217.3 1961,2225.8 1960.8,2230C1960.5,2234.2 1960.1,2237.2 1958.4,2239.4C1956.7,2241.7 1952.4,2243.4 1950.5,2243.4C1948.7,2243.4 1947.1,2241.7 1947.4,2239.4C1947.6,2237.2 1951.2,2234.7 1952.1,2230C1953,2225.2 1951.6,2213.7 1952.9,2211Z" fill="#231F20"/>
<path d="M2031,2244.2C2033.4,2243.9 2039.4,2246.5 2042.1,2250.5C2044.7,2254.4 2046.1,2262.3 2046.8,2267.9C2047.5,2273.4 2047.3,2280.2 2046,2283.6C2044.7,2287.1 2040.6,2288.4 2038.9,2288.4C2037.2,2288.4 2035.6,2286.3 2035.8,2283.6C2035.9,2281 2040,2276.5 2039.7,2272.6C2039.4,2268.6 2036.1,2263.4 2034.2,2260C2032.2,2256.5 2028.4,2254.7 2027.9,2252.1C2027.3,2249.4 2028.7,2244.4 2031,2244.2Z" fill="#231F20"/>
<path d="M 2029.8,2218.6 L 2040.2,2207.6" stroke="#231F20" stroke-width="8.5" stroke-linecap="round" fill="none"/>
<path d="M1922.1,2137.6C1923,2136.6 1923.9,2136.6 1926.8,2136.8C1929.7,2137.1 1936,2139.9 1939.5,2139.2C1942.9,2138.5 1943.9,2134.1 1947.4,2132.9C1950.8,2131.7 1956.6,2131.4 1960,2132.1C1963.4,2132.8 1966,2133.9 1967.9,2136.8C1969.7,2139.7 1970.6,2145.3 1971,2149.5C1971.4,2153.7 1970,2158.1 1970.2,2162.1C1970.5,2166 1969.6,2169.2 1972.6,2173.1C1975.6,2177.1 1982.1,2181.6 1988.4,2185.8C1994.7,2190 2004.2,2194.7 2010.5,2198.4C2016.8,2202.1 2022.3,2204.2 2026.3,2207.9C2030.2,2211.6 2032.7,2215.2 2034.2,2220.5C2035.6,2225.8 2035.2,2234.2 2035,2239.4C2034.7,2244.7 2032.6,2246 2032.6,2252.1C2032.6,2258.1 2034.7,2269.7 2035,2275.7C2035.2,2281.8 2035.1,2284.4 2034.2,2288.4C2033.3,2292.3 2031.5,2297 2029.4,2299.4C2027.3,2301.8 2023.1,2303.2 2021.5,2302.9C2020,2302.6 2019.4,2300.3 2020,2297.8C2020.5,2295.4 2023.9,2292.3 2024.7,2288.4C2025.5,2284.4 2026,2278.1 2024.7,2274.2C2023.4,2270.2 2020.2,2268.6 2016.8,2264.7C2013.4,2260.7 2007.1,2255.2 2004.2,2250.5C2001.3,2245.8 2002.6,2240 1999.4,2236.3C1996.3,2232.6 1990.2,2231 1985.2,2228.4C1980.2,2225.8 1973.7,2222.9 1969.5,2220.5C1965.2,2218.1 1962.5,2215.8 1960,2214.2C1957.5,2212.6 1955.8,2208.9 1954.5,2211C1953.1,2213.1 1953.5,2221.8 1952.1,2226.8C1950.6,2231.8 1947.6,2237.2 1945.8,2241C1943.9,2244.8 1942.9,2248 1941,2249.7C1939.2,2251.4 1935.9,2251.9 1934.7,2251.3C1933.5,2250.6 1933.1,2248 1933.9,2245.8C1934.7,2243.5 1938.4,2242.1 1939.5,2237.9C1940.5,2233.7 1940.6,2227.1 1940.3,2220.5C1939.9,2213.9 1937.9,2204.2 1937.1,2198.4C1936.3,2192.6 1935.1,2189.5 1935.5,2185.8C1935.9,2182.1 1937.9,2178.7 1939.5,2176.3C1941,2173.9 1943.9,2173.7 1945,2171.6C1946,2169.5 1947.2,2166 1945.8,2163.7C1944.3,2161.3 1939.5,2158.7 1936.3,2157.4C1933.1,2156 1928.9,2156.8 1926.8,2155.8C1924.7,2154.7 1924.6,2153.1 1923.7,2151C1922.8,2148.9 1921.6,2145.4 1921.3,2143.1C1921,2140.9 1921.2,2138.7 1922.1,2137.6Z" fill="#2E2A2C"/>
<ellipse cx="1930" cy="2147.1" rx="7" ry="5.5" fill="#403D3F"/>
<ellipse cx="1924.8" cy="2138.7" rx="3.2" ry="2.2" fill="#0A0A0A"/>
<polygon points="1945.8,2164.5 1956.8,2167.6 1970.2,2161.3 1971.8,2170.8 1956.8,2174.4 1944.7,2172.4" fill="#2B5A8A"/>
<path d="M1960.8,2137.6C1962.1,2137.1 1965.1,2138.3 1966.3,2141.6C1967.5,2144.9 1966.8,2152.1 1967.9,2157.4C1968.9,2162.6 1972.1,2169.5 1972.6,2173.1C1973.1,2176.8 1972.3,2178.3 1971,2179.5C1969.7,2180.6 1966.7,2181.3 1964.7,2180.2C1962.7,2179.2 1960.5,2177 1959.2,2173.1C1957.9,2169.3 1957,2162.1 1956.8,2157.4C1956.7,2152.6 1957.7,2148 1958.4,2144.7C1959.1,2141.4 1959.5,2138.2 1960.8,2137.6Z" fill="#231F20"/>
<path d="M1967.9,2136C1968.4,2134.5 1972.6,2135.9 1974.2,2138.4C1975.8,2140.9 1975.5,2147.4 1977.3,2151C1979.2,2154.7 1983.5,2158.1 1985.2,2160.5C1987,2162.9 1987.9,2163.7 1987.6,2165.2C1987.3,2166.8 1985.4,2169.3 1983.7,2169.7C1982,2170.1 1979.2,2169.1 1977.3,2167.6C1975.5,2166.1 1973.7,2163.8 1972.6,2160.5C1971.6,2157.2 1971.8,2152 1971,2147.9C1970.2,2143.8 1967.4,2137.6 1967.9,2136Z" fill="#231F20"/>
<ellipse cx="1944.7" cy="2141.6" rx="2" ry="1.2" fill="#E6E6E6"/>
</g>
<g id="callouts">
<line x1="1896" y1="1160" x2="1972" y2="1765" stroke="#A51120" stroke-width="17"/>
<line x1="2800" y1="1080" x2="3042" y2="1395" stroke="#A51120" stroke-width="17" stroke-linecap="round"/>
<line x1="3420" y1="742" x2="3290" y2="1398" stroke="#A51120" stroke-width="17" stroke-linecap="round"/>
<circle cx="1888.5" cy="937.7" r="225" fill="#FFFFFF" stroke="#A51120" stroke-width="8.5"/>
<rect x="1771" y="879.6" width="69.4" height="174.8" fill="#231F20"/>
<rect x="1761" y="892.4" width="88.4" height="151.2" fill="#595555" rx="44" ry="44"/>
<circle cx="1776.1" cy="973.8" r="29" fill="#827E7C"/>
<rect x="1771" y="945.1" width="10" height="57.4" fill="#A51120"/>
<rect x="1928.8" y="879.6" width="69.4" height="174.8" fill="#231F20"/>
<rect x="1918.8" y="892.4" width="88.4" height="151.2" fill="#595555" rx="44" ry="44"/>
<circle cx="1934.6" cy="973.8" r="29" fill="#827E7C"/>
<rect x="1905.9" y="969.2" width="57.4" height="9.6" fill="#A51120"/>
<text x="1771.8" y="866.4" font-size="49" fill="#231F20" textLength="67.8" lengthAdjust="spacingAndGlyphs">ON</text>
<text x="1920.7" y="866.4" font-size="49" fill="#231F20" textLength="85.7" lengthAdjust="spacingAndGlyphs">OFF</text>
<clipPath id="c2"><circle cx="2684.3" cy="930" r="221"/></clipPath>
<circle cx="2684.3" cy="930" r="225" fill="#FFFFFF" stroke="#A51120" stroke-width="8.5"/>
<g clip-path="url(#c2)">
<path d="M 2728.5,796.3 L 2733.2,796.3 Q 2736.3,781.6 2754.9,781.6 Q 2776.2,781.6 2776.2,804.1 L 2776.2,966.9 Q 2776.2,1013.4 2752.5,1044.4 L 2752.5,1083.2 L 2638.6,1083.2 L 2638.6,1038.6 L 2728.5,1038.6 Z" fill="#8B8A88"/>
<path d="M 2614.1,1184 L 2614.1,1106.4 Q 2615.3,1076.2 2647.1,1075.4 L 2740.1,1075.4 Q 2770.4,1076.2 2771.2,1106.4 L 2771.2,1184 Z" fill="#273614"/>
<rect x="2594.4" y="752.9" width="143.8" height="290" fill="#4A3A36" rx="22" ry="22"/>
<rect x="2592" y="749.8" width="141.1" height="288.8" fill="#161513" rx="22" ry="22"/>
<rect x="2682" y="745.9" width="31" height="7.8" fill="#161513" rx="2.5" ry="2.5"/>
<rect x="2588.6" y="767.2" width="5" height="22.1" fill="#161513" rx="2.5" ry="2.5"/>
<rect x="2588.6" y="811" width="5" height="13.2" fill="#161513" rx="2.5" ry="2.5"/>
<rect x="2588.6" y="839.7" width="5" height="13.6" fill="#161513" rx="2.5" ry="2.5"/>
<line x1="2648.3" y1="773.4" x2="2676.9" y2="773.4" stroke="#2C2A29" stroke-width="1.6"/>
<line x1="2654.8" y1="763.7" x2="2670.4" y2="763.7" stroke="#2C2A29" stroke-width="1.2"/>
<circle cx="2638.6" cy="773.8" r="3.5" fill="#2C2A29"/>
<rect x="2600.6" y="789.7" width="124.8" height="209" fill="#FFFFFF" stroke="#9A9A9A" stroke-width="1.2"/>
<text x="2659.5" y="844.8" font-size="45" fill="#231F20" textLength="73.6" lengthAdjust="spacing" text-anchor="middle">911</text>
<line x1="2600.6" y1="860.3" x2="2725.4" y2="860.3" stroke="#C9C9C9" stroke-width="0.8"/>
<line x1="2600.6" y1="887.4" x2="2725.4" y2="887.4" stroke="#C9C9C9" stroke-width="0.8"/>
<line x1="2600.6" y1="915.3" x2="2725.4" y2="915.3" stroke="#C9C9C9" stroke-width="0.8"/>
<line x1="2600.6" y1="942.5" x2="2725.4" y2="942.5" stroke="#C9C9C9" stroke-width="0.8"/>
<line x1="2600.6" y1="970" x2="2725.4" y2="970" stroke="#C9C9C9" stroke-width="0.8"/>
<line x1="2642.4" y1="860.3" x2="2642.4" y2="998.7" stroke="#C9C9C9" stroke-width="0.8"/>
<rect x="2642.4" y="970" width="40.7" height="28.7" fill="#467822"/>
<text x="2622.7" y="879.3" font-size="15" fill="#1B2340" text-anchor="middle">1</text>
<text x="2662.6" y="879.3" font-size="15" fill="#1B2340" text-anchor="middle">2</text>
<text x="2702.5" y="879.3" font-size="15" fill="#1B2340" text-anchor="middle">3</text>
<text x="2622.7" y="906.8" font-size="15" fill="#1B2340" text-anchor="middle">4</text>
<text x="2662.6" y="906.8" font-size="15" fill="#1B2340" text-anchor="middle">5</text>
<text x="2702.5" y="906.8" font-size="15" fill="#1B2340" text-anchor="middle">6</text>
<text x="2622.7" y="934.3" font-size="15" fill="#1B2340" text-anchor="middle">7</text>
<text x="2662.6" y="934.3" font-size="15" fill="#1B2340" text-anchor="middle">8</text>
<text x="2702.5" y="934.3" font-size="15" fill="#1B2340" text-anchor="middle">9</text>
<text x="2622.7" y="961.6" font-size="15" fill="#1B2340" text-anchor="middle">#</text>
<text x="2662.6" y="961.6" font-size="15" fill="#1B2340" text-anchor="middle">0</text>
<text x="2702.5" y="966.3" font-size="24" fill="#1B2340" font-weight="bold" text-anchor="middle">*</text>
<text x="2622.7" y="989.7" font-size="15" fill="#1B2340" text-anchor="middle">+</text>
<text x="2702.5" y="989.7" font-size="15" fill="#1B2340" font-weight="bold" text-anchor="middle">→</text>
<path d="M2655.6,975.3 q-2,6 2,12 q4,5 10,6 l2,-4 l-4,-3 l-2,1 q-3,-2 -4,-5 l2,-2 l-2,-5 z" fill="#FFFFFF"/>
<path d="M2663.6,977.3 h7 M2664.6,980.8 h6 M2665.6,984.3 h5" stroke="#FFFFFF" stroke-width="1.6" fill="none"/>
<path d="M 2703.7,897.1 Q 2701.4,881.6 2724.6,877.7 Q 2740.1,875.8 2746,897.1 L 2774.3,974.6 Q 2775,1013.4 2754.9,1040.5 L 2732.4,1028.9 Z" fill="#8B8A88"/>
<path d="M 2730.8,902.9 Q 2728.5,887.4 2738.2,882.4 Q 2746,889.3 2748.7,908.7 L 2752.9,924.2 Q 2736.3,922.3 2731.6,912.6 Z" fill="#B5B3B2"/>
</g>
<rect x="3356" y="473" width="146" height="201" fill="#FFFFFF"/>
<circle cx="3428.9" cy="538.4" r="20" fill="#444041"/>
<rect x="3367.4" y="608.7" width="123" height="3.3" fill="#444041"/>
<rect x="3367.4" y="616.1" width="123" height="3.3" fill="#444041"/>
<rect x="3367.4" y="623.5" width="123" height="3.3" fill="#444041"/>
<rect x="3367.4" y="631" width="123" height="3.3" fill="#444041"/>
<rect x="3367.4" y="638.4" width="123" height="3.3" fill="#444041"/>
<rect x="3367.4" y="645.8" width="123" height="3.3" fill="#444041"/>
<rect x="3367.4" y="653.2" width="123" height="3.3" fill="#444041"/>
<rect x="3367.4" y="660.6" width="123" height="3.3" fill="#444041"/>
</g>
<g id="text">
<text y="305.6" font-size="204" font-weight="bold" fill="#003D69"><tspan x="85.6" textLength="337.9" lengthAdjust="spacingAndGlyphs">Use</tspan> <tspan x="466.9" textLength="186.7" lengthAdjust="spacingAndGlyphs">el</tspan> <tspan x="683.7" textLength="314.7" lengthAdjust="spacingAndGlyphs">gas</tspan> <tspan x="1039.3" textLength="695.6" lengthAdjust="spacingAndGlyphs">natural</tspan> <tspan x="1764.1" textLength="234.7" lengthAdjust="spacingAndGlyphs">de</tspan> <tspan x="2042.2" textLength="554.5" lengthAdjust="spacingAndGlyphs">forma</tspan> <tspan x="2648.2" textLength="616.4" lengthAdjust="spacingAndGlyphs">segura</tspan></text>
<text x="1405" y="509.5" font-size="63" fill="#003D69" textLength="431" lengthAdjust="spacing" stroke="#003D69" stroke-width="2.6" stroke-linejoin="round">Conozca cómo</text>
<text x="1407" y="593.5" font-size="63" fill="#003D69" textLength="331" lengthAdjust="spacing" stroke="#003D69" stroke-width="2.6" stroke-linejoin="round">interrumpir</text>
<text x="1405" y="676" font-size="63" fill="#003D69" textLength="516" lengthAdjust="spacing" stroke="#003D69" stroke-width="2.6" stroke-linejoin="round">el servicio de gas</text>
<text x="2179" y="509" font-size="63" fill="#003D69" textLength="964" lengthAdjust="spacing" stroke="#003D69" stroke-width="2.6" stroke-linejoin="round">Salga del lugar inmediatamente</text>
<text x="2181" y="592" font-size="63" fill="#003D69" textLength="622" lengthAdjust="spacing" stroke="#003D69" stroke-width="2.6" stroke-linejoin="round">y llame al 911 si hay</text>
<text x="2181" y="675" font-size="63" fill="#003D69" textLength="393" lengthAdjust="spacing" stroke="#003D69" stroke-width="2.6" stroke-linejoin="round">algún escape</text>
<text x="3536" y="553" font-size="66.9" fill="#003D69" textLength="601" lengthAdjust="spacing" stroke="#003D69" stroke-width="2.7" stroke-linejoin="round">Instale detectores</text>
<text x="3536" y="635" font-size="66.9" fill="#003D69" textLength="828" lengthAdjust="spacing" stroke="#003D69" stroke-width="2.7" stroke-linejoin="round">de monóxido de carbono</text>
</g>
<g id="logos">
<path d="M207.3,2207.7C209.8,2204.7 217.9,2198.3 228.4,2195.7C238.9,2193.1 233.4,2192.5 270.5,2192.1C307.6,2191.7 372.8,2192.9 451,2193.3C529.2,2193.7 690.1,2190.3 739.8,2194.5C789.6,2198.7 748.9,2213.3 749.4,2218.6C749.9,2223.8 772.5,2224.2 742.8,2225.8C713.1,2227.4 628,2227.2 571.3,2228.2C514.7,2229.2 433.4,2230.2 402.9,2231.8C372.4,2233.4 391.4,2234.5 388.4,2237.8C385.4,2241.1 386.9,2248.4 384.8,2251.6C382.7,2254.9 378.8,2257.1 375.8,2257.1C372.8,2257.1 368.6,2255.9 366.8,2251.6C365,2247.4 368,2235.6 365,2231.8C362,2228 352.3,2227.8 348.7,2228.8C345.1,2229.8 344.5,2229.5 343.3,2237.8C342.1,2246.1 343.5,2269.7 341.5,2278.7C339.5,2287.7 334.6,2292 331.3,2292C328,2292 323.5,2287.7 321.6,2278.7C319.8,2269.7 324,2246.6 320.4,2237.8C316.9,2229 307.1,2226.8 300.6,2225.8C294.1,2224.8 291.4,2232.8 281.3,2231.8C271.3,2230.8 251.8,2222.8 240.4,2219.8C229.1,2216.8 218.9,2215.7 213.3,2213.7C207.8,2211.7 204.8,2210.7 207.3,2207.7Z" fill="#C6D3EC"/>
<path d="M219.4,2205.3C222.4,2202.9 207.8,2198.5 246.4,2196.9C285,2195.3 369.8,2195.7 451,2195.7C532.2,2195.7 685.7,2194.1 733.8,2196.9C781.9,2199.7 766.9,2208.9 739.8,2212.5C712.7,2216.1 629.5,2217.1 571.3,2218.6C513.2,2220.1 441,2222.1 390.8,2221.6C340.7,2221.1 297.6,2217.3 270.5,2215.5C243.4,2213.8 236.9,2213 228.4,2211.3C219.9,2209.6 216.4,2207.7 219.4,2205.3Z" fill="#E4EAF6"/>
<path d="M769.9,2211.3C772.1,2207.7 766.9,2202.5 788,2200.5C809,2198.5 832.1,2199.3 896.3,2199.3C960.4,2199.3 1073.5,2200.5 1173,2200.5C1272.6,2200.5 1435.1,2198.1 1493.7,2199.3C1552.4,2200.5 1515.1,2203.9 1525,2207.7C1534.9,2211.5 1551.8,2218.2 1553.3,2222.2C1554.8,2226.2 1545.3,2230.7 1534,2231.8C1522.8,2232.9 1494.8,2227 1485.9,2228.8C1477,2230.6 1481.7,2235.3 1480.5,2242.6C1479.3,2249.9 1480.1,2266.4 1478.7,2272.7C1477.3,2279 1474.4,2280.5 1472.1,2280.5C1469.8,2280.5 1466.3,2277.3 1464.8,2272.7C1463.4,2268.1 1466,2256.8 1463.6,2252.9C1461.3,2248.9 1454.4,2247.9 1451,2249.2C1447.6,2250.5 1444.8,2251.7 1443.2,2260.7C1441.6,2269.6 1443.1,2293.9 1441.4,2302.8C1439.7,2311.7 1435.9,2314.2 1433,2314.2C1430.1,2314.2 1425.7,2311.7 1423.9,2302.8C1422.1,2293.9 1424.3,2269.1 1422.1,2260.7C1419.9,2252.3 1414.9,2252.7 1410.7,2252.3C1406.5,2251.8 1399.4,2254.9 1396.9,2258.3C1394.4,2261.7 1397.4,2269 1395.7,2272.7C1394,2276.4 1389.6,2280.7 1386.6,2280.5C1383.6,2280.3 1379.4,2276.6 1377.6,2271.5C1375.8,2266.4 1379.8,2256.5 1375.8,2249.8C1371.8,2243.2 1372.3,2235.4 1353.5,2231.8C1334.8,2228.2 1293.4,2226.8 1263.3,2228.2C1233.2,2229.6 1203.1,2237.1 1173,2240.2C1142.9,2243.3 1112.9,2247.7 1082.8,2246.8C1052.7,2245.9 1022.6,2238.8 992.5,2234.8C962.4,2230.8 932.4,2224.8 902.3,2222.8C872.2,2220.8 833.3,2222.9 812,2222.8C790.8,2222.7 781.7,2224.1 774.7,2222.2C767.7,2220.3 767.7,2214.9 769.9,2211.3Z" fill="#A8BBE2"/>
<path d="M781.9,2210.1C779.9,2208.3 780.9,2204.3 800,2202.9C819,2201.5 834.1,2201.7 896.3,2201.7C958.4,2201.7 1073.5,2202.9 1173,2202.9C1272.6,2202.9 1435.6,2200.3 1493.7,2201.7C1551.9,2203.1 1514.3,2207.9 1522,2211.3C1529.7,2214.7 1545.1,2220.6 1540.1,2222.2C1535,2223.8 1523,2221 1491.9,2221C1460.8,2221 1391.6,2222.6 1353.5,2222.2C1315.4,2221.8 1293.4,2217.2 1263.3,2218.6C1233.2,2220 1203.1,2227.6 1173,2230.6C1142.9,2233.6 1112.9,2237.6 1082.8,2236.6C1052.7,2235.6 1022.6,2228.4 992.5,2224.6C962.4,2220.8 932.4,2215.5 902.3,2213.7C872.2,2211.9 832.1,2214.3 812,2213.7C792,2213.1 783.9,2211.9 781.9,2210.1Z" fill="#DCE4F4"/>
<path d="M1377.6,2230.6C1392.6,2228.4 1458.2,2228.4 1473.9,2230.6C1489.5,2232.8 1474.5,2242.2 1471.5,2243.8C1468.5,2245.4 1460.8,2239.4 1455.8,2240.2C1450.8,2241 1446.6,2247 1441.4,2248.6C1436.2,2250.2 1429.6,2250.8 1424.5,2249.8C1419.5,2248.8 1416.3,2243 1411.3,2242.6C1406.3,2242.2 1399.1,2247.2 1394.5,2247.4C1389.8,2247.6 1386.4,2246.6 1383.6,2243.8C1380.8,2241 1362.6,2232.8 1377.6,2230.6Z" fill="#DCE4F4"/>
<circle cx="1389.6" cy="2183.7" r="4" fill="#A8BBE2"/>
<circle cx="1407.7" cy="2177.6" r="2.5" fill="#A8BBE2"/>
<circle cx="913.1" cy="2201.7" r="2" fill="#A8BBE2"/>
<circle cx="896.3" cy="2194.5" r="1.5" fill="#A8BBE2"/>
<circle cx="372.8" cy="2166.2" r="1.5" fill="#A8BBE2"/>
<circle cx="1180.3" cy="2198.7" r="1.5" fill="#A8BBE2"/>
<circle cx="1298.2" cy="2212.5" r="1.3" fill="#A8BBE2"/>
<circle cx="1069.5" cy="2217.4" r="1.3" fill="#A8BBE2"/>
<text x="117.9" y="2199.3" font-size="180" fill="#9DC34A" font-weight="bold" textLength="97" lengthAdjust="spacingAndGlyphs" stroke="#9DC34A" stroke-width="6.5" stroke-linejoin="round">#</text>
<text x="228.9" y="2199.3" font-size="180" fill="#0E3F76" font-weight="bold" textLength="665.8" lengthAdjust="spacingAndGlyphs" stroke="#0E3F76" stroke-width="6.5" stroke-linejoin="round">WıNTER</text>
<text x="910" y="2199.3" font-size="180" fill="#9DC34A" font-weight="bold" textLength="582.8" lengthAdjust="spacingAndGlyphs" stroke="#9DC34A" stroke-width="6.5" stroke-linejoin="round">READY</text>
<path d="M419.7,2074.2 L419.7,2051.2 M419.7,2065.2 L425.1,2060.7 M419.7,2065.2 L414.4,2060.7 M419.7,2059.2 L425.1,2054.7 M419.7,2059.2 L414.4,2054.7 M419.7,2074.2 L399.8,2062.7 M411.9,2069.7 L410.7,2062.8 M411.9,2069.7 L405.4,2072 M406.7,2066.7 L405.5,2059.8 M406.7,2066.7 L400.2,2069 M419.7,2074.2 L399.8,2085.7 M411.9,2078.7 L405.4,2076.3 M411.9,2078.7 L410.7,2085.5 M406.7,2081.7 L400.2,2079.3 M406.7,2081.7 L405.5,2088.5 M419.7,2074.2 L419.7,2097.2 M419.7,2083.2 L414.4,2087.7 M419.7,2083.2 L425.1,2087.7 M419.7,2089.2 L414.4,2093.7 M419.7,2089.2 L425.1,2093.7 M419.7,2074.2 L439.6,2085.7 M427.5,2078.7 L428.7,2085.5 M427.5,2078.7 L434.1,2076.3 M432.7,2081.7 L433.9,2088.5 M432.7,2081.7 L439.3,2079.3 M419.7,2074.2 L439.6,2062.7 M427.5,2069.7 L434.1,2072 M427.5,2069.7 L428.7,2062.8 M432.7,2066.7 L439.3,2069 M432.7,2066.7 L433.9,2059.8" stroke="#9DC34A" stroke-width="3.2" fill="none" stroke-linecap="round"/>
<path d="M 4536.3,2099.7 L 4543.9,2086.2 Q 4604.8,2122.3 4646.3,2176.3 Q 4717.5,2086.2 4821.1,2054.6 L 4821.1,2070.4 Q 4726.5,2099.7 4658.9,2189.9 L 4634.1,2189.9 Q 4595.8,2135.8 4536.3,2099.7 Z" fill="#A5CC9A"/>
<path d="M 4515.5,2142.5 L 4531.8,2113.2 Q 4568.7,2133.5 4593.5,2160.6 Q 4676.9,2041.1 4821.1,2000.6 L 4821.1,2036.6 Q 4694.9,2072.7 4617.4,2189.9 L 4571,2189.9 Q 4546.2,2162.8 4515.5,2142.5 Z" fill="#41761B"/>
<text x="4186.3" y="2376.9" font-size="203" fill="#6D6E71" font-weight="bold" textLength="442.8" lengthAdjust="spacingAndGlyphs">Listo</text>
<text x="4315" y="2426.5" font-size="24" fill="#4D4D4F" text-anchor="middle">®</text>
</g>
</svg>
</body></html>
